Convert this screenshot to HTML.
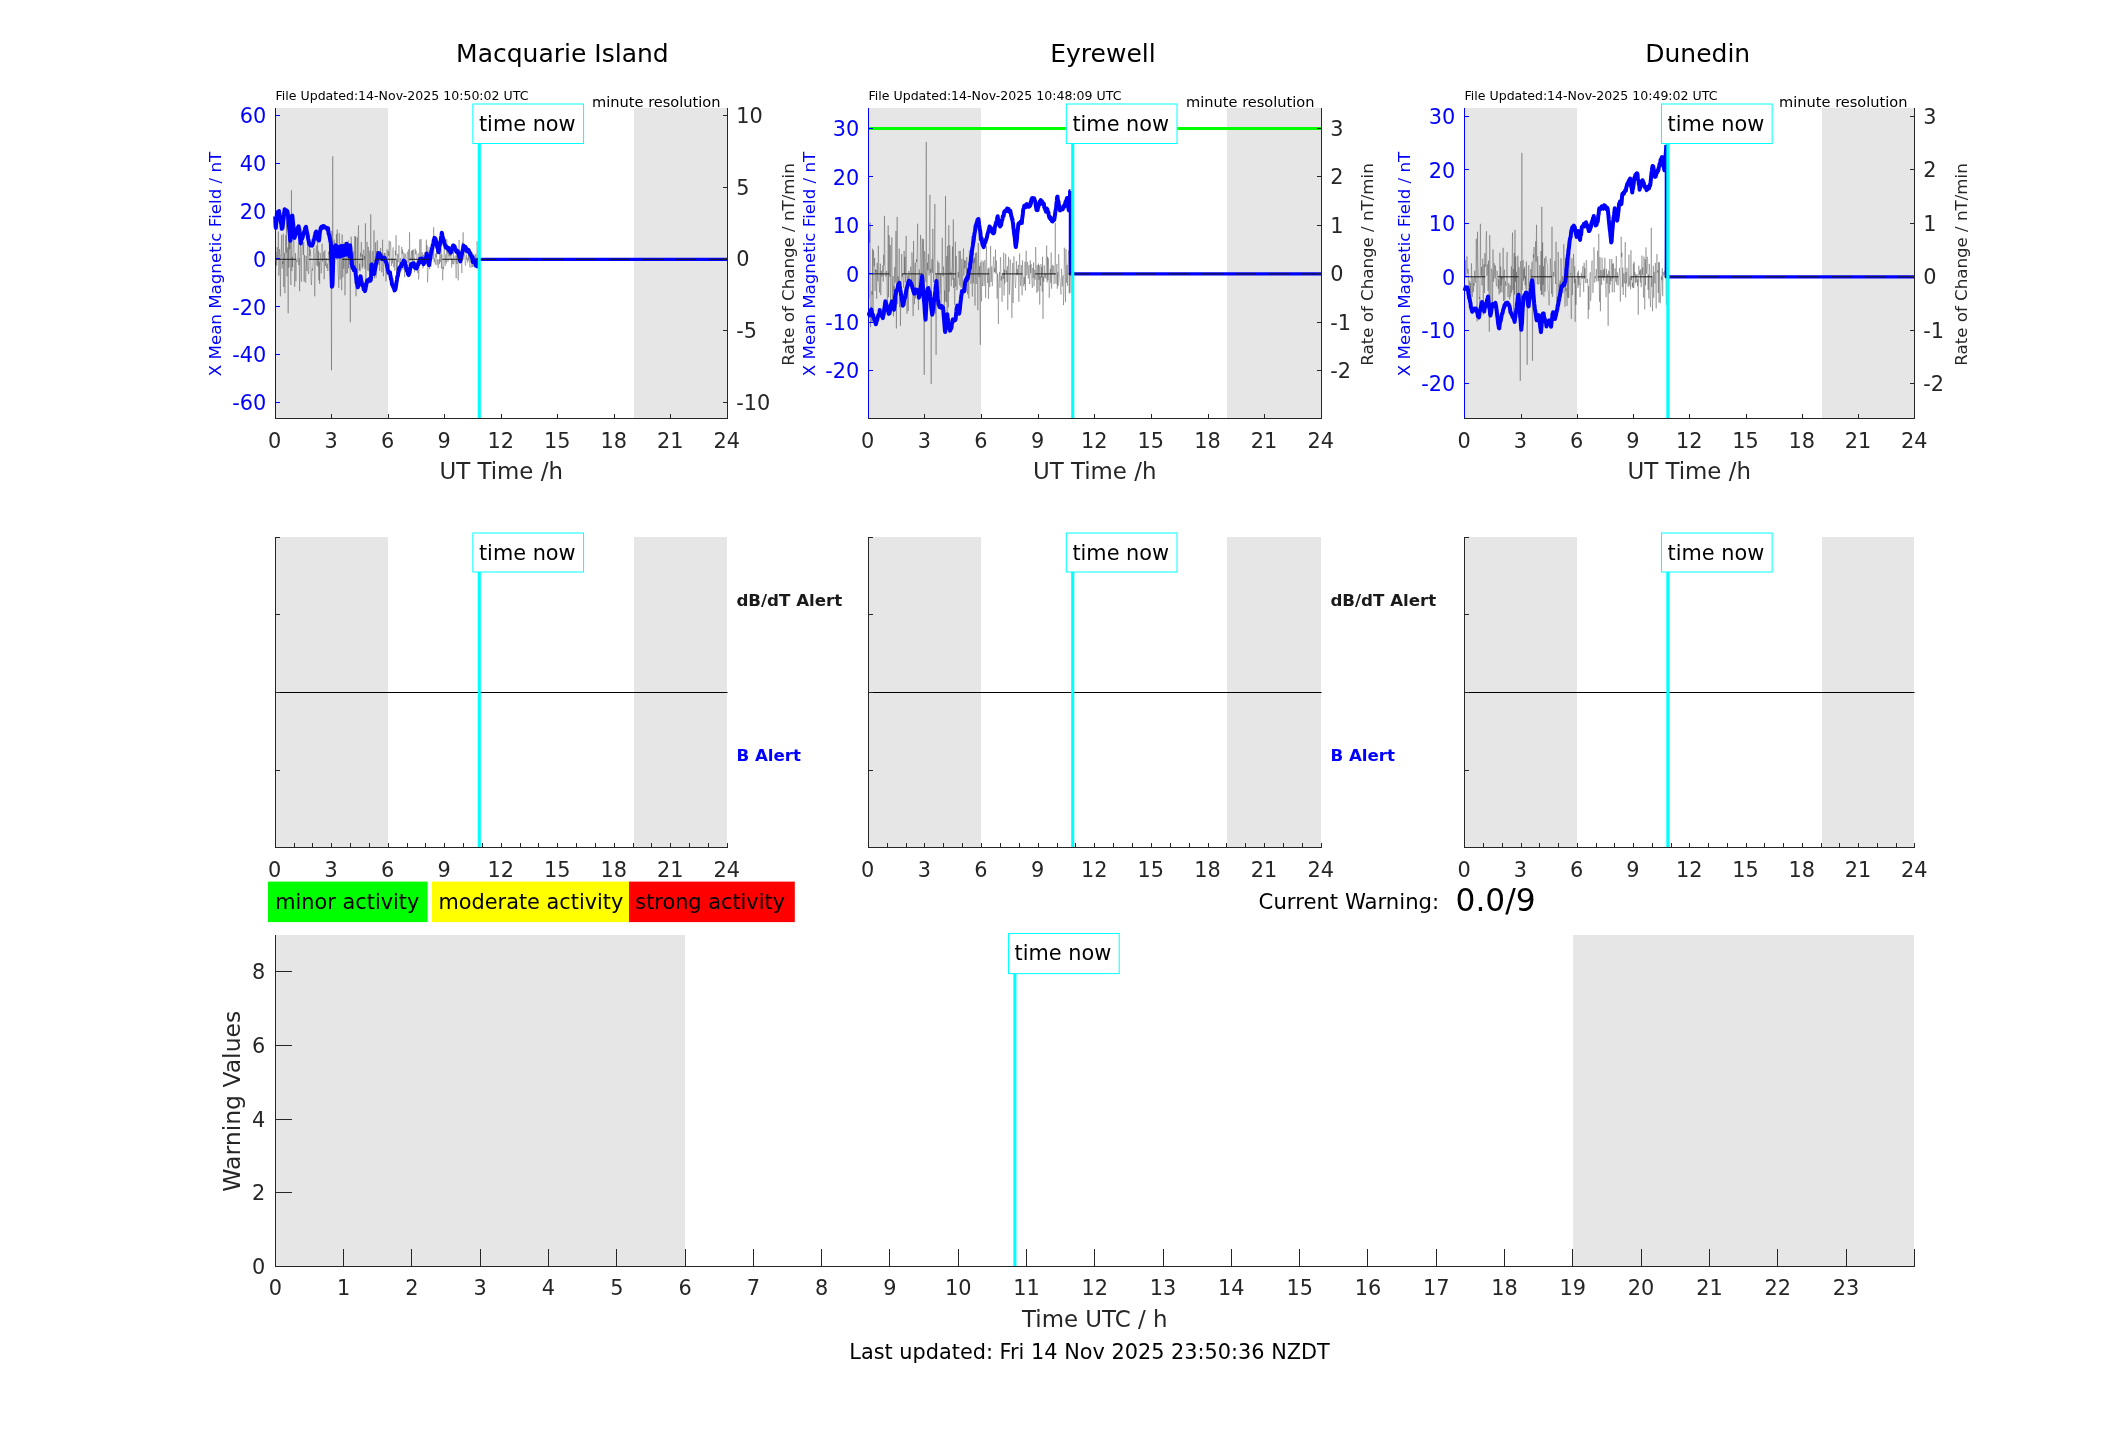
<!DOCTYPE html>
<html><head><meta charset="utf-8"><title>Magnetometer warning plots</title>
<style>html,body{margin:0;padding:0;background:#fff}svg{display:block;will-change:transform}text{font-family:"DejaVu Sans","Liberation Sans",sans-serif;white-space:pre}</style>
</head><body>
<svg width="2117" height="1437" viewBox="0 0 2117 1437">
<rect width="2117" height="1437" fill="#fff"/>
<rect x="276" y="108" width="112" height="310" fill="#e6e6e6"/>
<rect x="634" y="108" width="93" height="310" fill="#e6e6e6"/>
<path d="M275.5 284.05 L275.91 252.38 L276.32 259.79 L276.73 265.51 L277.13 247.13 L277.54 259.33 L277.95 259.29 L278.36 231.36 L278.77 275.64 L279.18 269.02 L279.59 249.1 L280 256.48 L280.4 296.3 L280.81 254.97 L281.22 255.26 L281.63 235.02 L282.04 268.59 L282.45 261.38 L282.86 263.91 L283.27 233.66 L283.67 287.01 L284.08 261.89 L284.49 252.82 L284.9 293.15 L285.31 258.55 L285.72 235.3 L286.13 252.63 L286.54 221.87 L286.94 276.35 L287.35 252.59 L287.76 247.43 L288.17 313.3 L288.58 233.41 L288.99 267.61 L289.4 227.64 L289.81 249.27 L290.21 241.3 L290.62 280.85 L291.03 284.95 L291.44 190.3 L291.85 271.13 L292.26 256.81 L292.67 267.01 L293.08 249.27 L293.48 236.98 L293.89 236.22 L294.3 264.1 L294.71 286.85 L295.12 262.53 L295.53 253.16 L295.94 281.13 L296.35 261.94 L296.75 260.4 L297.16 261.97 L297.57 257.88 L297.98 255.89 L298.39 243.08 L298.8 265.11 L299.21 258.18 L299.62 291.3 L300.02 254.72 L300.43 235.1 L300.84 258.01 L301.25 281.77 L301.66 254.13 L302.07 247.09 L302.48 242.63 L302.89 244.38 L303.29 254.97 L303.7 242.01 L304.11 281.56 L304.52 255.04 L304.93 260.96 L305.34 281.51 L305.75 282.78 L306.16 255.94 L306.56 264.59 L306.97 271.11 L307.38 256.18 L307.79 230.29 L308.2 270.05 L308.61 274.07 L309.02 266.19 L309.43 243.92 L309.83 256.02 L310.24 249.4 L310.65 254.27 L311.06 281.08 L311.47 285 L311.88 270.54 L312.29 268.5 L312.7 270.62 L313.1 259.1 L313.51 258.04 L313.92 248.16 L314.33 258.38 L314.74 296.25 L315.15 273.41 L315.56 253.79 L315.97 251.76 L316.37 245.61 L316.78 265.17 L317.19 265.37 L317.6 237.19 L318.01 266.66 L318.42 250.8 L318.83 280.31 L319.24 261.58 L319.64 283.83 L320.05 252.86 L320.46 255.32 L320.87 263.37 L321.28 273.35 L321.69 266.68 L322.1 243.53 L322.51 261.59 L322.91 259.57 L323.32 254.17 L323.73 251.73 L324.14 279.22 L324.55 254.96 L324.96 250.14 L325.37 266.01 L325.78 260.7 L326.18 258.46 L326.59 268.15 L327 264.97 L327.41 263.61 L327.82 271.03 L328.23 262.83 L328.64 251.46 L329.05 254.6 L329.45 252.4 L329.86 262.13 L330.27 244.48 L330.68 233.67 L331.09 260.55 L331.5 370.3 L331.91 230.67 L332.32 264.86 L332.72 156.3 L333.13 266.88 L333.54 251.09 L333.95 241.77 L334.36 239.66 L334.77 251.09 L335.18 254.9 L335.59 245.95 L335.99 254.71 L336.4 234.07 L336.81 259.54 L337.22 229.53 L337.63 256.07 L338.04 270.96 L338.45 277.6 L338.86 288.07 L339.26 233.16 L339.67 272.05 L340.08 279.55 L340.49 275.74 L340.9 243.76 L341.31 266.17 L341.72 290.2 L342.13 234.54 L342.53 267.13 L342.94 277.48 L343.35 247.99 L343.76 268.69 L344.17 242.2 L344.58 246.45 L344.99 295.3 L345.4 262.28 L345.8 257.91 L346.21 273.73 L346.62 245.27 L347.03 257.37 L347.44 273.23 L347.85 267.3 L348.26 240.71 L348.67 268.47 L349.07 252.82 L349.48 264.42 L349.89 263.22 L350.3 322.3 L350.71 260.76 L351.12 236.65 L351.53 242.94 L351.94 267.82 L352.34 256.36 L352.75 271.92 L353.16 262.25 L353.57 251.42 L353.98 270.96 L354.39 250.37 L354.8 236.02 L355.21 283.29 L355.61 236.55 L356.02 296.3 L356.43 271 L356.84 261.17 L357.25 237.42 L357.66 272.76 L358.07 239.82 L358.48 225.3 L358.88 254.24 L359.29 270.53 L359.7 263.64 L360.11 271.21 L360.52 252.69 L360.93 256.7 L361.34 241.92 L361.75 254.4 L362.15 268.58 L362.56 254.56 L362.97 266.88 L363.38 250.08 L363.79 249.69 L364.2 259.94 L364.61 256.1 L365.02 269.09 L365.42 223.3 L365.83 288.31 L366.24 255.63 L366.65 255.49 L367.06 241.84 L367.47 259.68 L367.88 270.77 L368.29 246.87 L368.69 258.47 L369.1 271.32 L369.51 257.18 L369.92 250.68 L370.33 275.38 L370.74 214.3 L371.15 265.78 L371.56 278.3 L371.96 277.73 L372.37 253.76 L372.78 250.99 L373.19 263.75 L373.6 257.24 L374.01 230.24 L374.42 278.57 L374.83 259.59 L375.23 270.12 L375.64 242.32 L376.05 277.66 L376.46 251.06 L376.87 257.82 L377.28 240.35 L377.69 257.08 L378.1 256.31 L378.5 256.94 L378.91 264.77 L379.32 260.04 L379.73 270.93 L380.14 253.85 L380.55 247.99 L380.96 259.09 L381.37 266.08 L381.77 272.37 L382.18 268.08 L382.59 239.74 L383 263.58 L383.41 276.31 L383.82 260.05 L384.23 253 L384.64 263.16 L385.04 252.88 L385.45 267.62 L385.86 281.3 L386.27 278.15 L386.68 266.18 L387.09 249.15 L387.5 267.92 L387.91 272.86 L388.31 250.94 L388.72 255.9 L389.13 240.64 L389.54 266.71 L389.95 254.43 L390.36 241.5 L390.77 244.32 L391.18 257.39 L391.58 265.86 L391.99 258.53 L392.4 263.43 L392.81 249.6 L393.22 247.42 L393.63 267.18 L394.04 263.7 L394.45 259.03 L394.85 270.81 L395.26 250.75 L395.67 255.52 L396.08 235.3 L396.49 275.82 L396.9 259.38 L397.31 274.34 L397.72 253.92 L398.12 262.23 L398.53 257.76 L398.94 245.32 L399.35 261.56 L399.76 267.4 L400.17 258.02 L400.58 258.7 L400.99 271.09 L401.39 248.83 L401.8 246.89 L402.21 253.94 L402.62 249.63 L403.03 270.04 L403.44 261.74 L403.85 252.61 L404.26 254.61 L404.66 277.3 L405.07 254.8 L405.48 253.79 L405.89 261.46 L406.3 263.74 L406.71 260.81 L407.12 253.24 L407.53 251.74 L407.93 263.1 L408.34 258.96 L408.75 249.33 L409.16 266.23 L409.57 232.3 L409.98 257.94 L410.39 257.79 L410.8 260.68 L411.2 255.11 L411.61 250.87 L412.02 261.36 L412.43 249.88 L412.84 261.92 L413.25 249.44 L413.66 258.61 L414.07 258.33 L414.47 272.24 L414.88 251.43 L415.29 248.66 L415.7 254.36 L416.11 250.57 L416.52 254.65 L416.93 262.66 L417.34 265.55 L417.74 272.91 L418.15 253.19 L418.56 279.44 L418.97 276.1 L419.38 257.56 L419.79 239.53 L420.2 258.58 L420.61 259.93 L421.01 239.04 L421.42 259.95 L421.83 257.52 L422.24 252.28 L422.65 264.91 L423.06 268.33 L423.47 254.93 L423.88 261.37 L424.28 253.41 L424.69 252.23 L425.1 260.01 L425.51 263.99 L425.92 254.27 L426.33 239.62 L426.74 264.48 L427.15 245.25 L427.55 282.3 L427.96 274.74 L428.37 259.16 L428.78 249.14 L429.19 246.94 L429.6 269.1 L430.01 259.16 L430.42 263.72 L430.82 266.78 L431.23 258.91 L431.64 256.88 L432.05 251.97 L432.46 241.02 L432.87 247.93 L433.28 258.79 L433.69 227.3 L434.09 262.16 L434.5 258.42 L434.91 260.38 L435.32 264.55 L435.73 253.53 L436.14 257.47 L436.55 249.31 L436.96 265.2 L437.36 259.53 L437.77 262.12 L438.18 268.01 L438.59 265.56 L439 258.94 L439.41 264.11 L439.82 250.34 L440.23 262.08 L440.63 260.21 L441.04 248.45 L441.45 268.46 L441.86 254.38 L442.27 264.17 L442.68 280.3 L443.09 266.65 L443.5 269.18 L443.9 252.95 L444.31 247.4 L444.72 258.26 L445.13 266.09 L445.54 256.29 L445.95 254.26 L446.36 263.36 L446.77 239.15 L447.17 253.66 L447.58 247.45 L447.99 261.85 L448.4 252.89 L448.81 249.53 L449.22 256.18 L449.63 246.29 L450.04 259.18 L450.44 253.2 L450.85 255.92 L451.26 252.86 L451.67 267.5 L452.08 258.32 L452.49 264.02 L452.9 263.61 L453.31 252.07 L453.71 264.4 L454.12 262.42 L454.53 262.09 L454.94 255.77 L455.35 255.55 L455.76 266.16 L456.17 278.23 L456.58 252.15 L456.98 263.86 L457.39 256.2 L457.8 265.86 L458.21 280.3 L458.62 267.96 L459.03 239.93 L459.44 254.51 L459.85 251.54 L460.25 258.47 L460.66 253.79 L461.07 254.5 L461.48 264.31 L461.89 273.03 L462.3 242.31 L462.71 257.15 L463.12 232.3 L463.52 259.33 L463.93 257.06 L464.34 250.7 L464.75 253.45 L465.16 263.69 L465.57 265.64 L465.98 259.86 L466.39 254.57 L466.79 259.86 L467.2 257.87 L467.61 262.64 L468.02 260.04 L468.43 255.31 L468.84 260.55 L469.25 251.38 L469.66 264.93 L470.06 267.58 L470.47 250.88 L470.88 262.36 L471.29 251.96 L471.7 267.38 L472.11 266.23 L472.52 257.51 L472.93 267.16 L473.33 255.85 L473.74 254.08 L474.15 254.63 L474.56 258.13 L474.97 256.58 L475.38 260.61 L475.79 254.03 L476.2 265.91 L476.6 268.19 L477.01 241.3 L477.42 246.72 L477.83 265.72 L478.24 269.44 L478.65 257.84 L479.06 247.77 L479.47 261.7" fill="none" stroke="#202020" stroke-width="0.29" stroke-linejoin="bevel"/>
<path d="M275.18 216.35 L275.53 225.65 L275.88 227.92 L276.23 222.96 L276.58 219.98 L276.93 212.91 L277.28 213.94 L277.63 211.94 L277.98 212.8 L278.33 212.35 L278.68 213.72 L279.03 210.9 L279.38 213.44 L279.73 215.49 L280.08 218.8 L280.43 219.12 L280.78 221.96 L281.13 223.49 L281.48 226.33 L281.83 228.86 L282.18 228.65 L282.53 227.65 L282.88 224.65 L283.23 221.53 L283.58 219.05 L283.93 214.99 L284.28 212.63 L284.63 209.3 L284.98 210.04 L285.33 210.87 L285.68 210.1 L286.03 210.53 L286.38 210.5 L286.73 210.57 L287.08 210.91 L287.43 211.64 L287.78 213.3 L288.13 217.98 L288.48 222.72 L288.83 225.58 L289.18 228.44 L289.53 231.48 L289.88 235.19 L290.23 240.74 L290.58 239.78 L290.93 233.19 L291.28 227.81 L291.63 223.3 L291.98 215.68 L292.33 215.62 L292.68 219.19 L293.03 222.49 L293.38 225.69 L293.73 230.14 L294.08 234.08 L294.43 237.94 L294.78 237.12 L295.13 236.17 L295.48 234.63 L295.83 234.09 L296.18 231.75 L296.53 232.33 L296.88 230.72 L297.23 229.05 L297.58 228.65 L297.93 227.18 L298.28 227.12 L298.63 226.41 L298.98 228.29 L299.33 229.36 L299.68 233.26 L300.03 237.95 L300.38 242.42 L300.73 243.37 L301.08 241.81 L301.43 238.84 L301.78 239.11 L302.13 238.91 L302.48 237.33 L302.83 236.65 L303.18 234.76 L303.53 233.67 L303.88 232.88 L304.23 231.95 L304.58 230.68 L304.93 229.51 L305.28 227.78 L305.63 227.51 L305.98 226.8 L306.33 229.48 L306.68 231.42 L307.03 232.49 L307.38 233.92 L307.73 235.59 L308.08 238.32 L308.43 239.93 L308.78 241.47 L309.13 243.66 L309.48 243.84 L309.83 244.98 L310.18 244.15 L310.53 245.58 L310.88 245.01 L311.23 245.25 L311.58 243.99 L311.93 245.09 L312.28 245.63 L312.63 244.2 L312.98 243.4 L313.33 242.28 L313.68 239.8 L314.03 239.79 L314.38 238.86 L314.73 236.14 L315.08 235.75 L315.43 233.06 L315.78 232.73 L316.13 231.42 L316.48 234.56 L316.83 234.94 L317.18 235.54 L317.53 235.89 L317.88 238.48 L318.23 239.98 L318.58 237.87 L318.93 240.56 L319.28 238.43 L319.63 234.95 L319.98 231.27 L320.33 230.47 L320.68 228.18 L321.03 227.65 L321.38 226.95 L321.73 228.18 L322.08 228.18 L322.43 226.86 L322.78 227.58 L323.13 226.05 L323.48 227.41 L323.83 226.61 L324.18 226.23 L324.53 226.41 L324.88 227.42 L325.23 227.56 L325.58 227.61 L325.93 227.53 L326.28 227.72 L326.63 228.39 L326.98 228.52 L327.33 229.49 L327.68 229.31 L328.03 228.22 L328.38 231.61 L328.73 234.13 L329.08 234.6 L329.43 236.04 L329.78 237.88 L330.13 239.77 L330.48 241.75 L330.83 242.71 L331.18 258.33 L331.53 276.54 L331.88 286.7 L332.23 286.26 L332.58 284.04 L332.93 270.6 L333.28 258.62 L333.63 251.32 L333.98 246.66 L334.33 247.35 L334.68 253.02 L335.03 255.52 L335.38 252.16 L335.73 245.27 L336.08 248.23 L336.43 252.68 L336.78 256.53 L337.13 250.57 L337.48 246.68 L337.83 247.28 L338.18 251.18 L338.53 256.38 L338.88 251.87 L339.23 247.84 L339.58 246.78 L339.93 251.04 L340.28 256.65 L340.63 252.33 L340.98 247.69 L341.33 246.14 L341.68 251.79 L342.03 255.83 L342.38 254.32 L342.73 249.02 L343.08 246.06 L343.43 248.9 L343.78 255.35 L344.13 253.8 L344.48 249.45 L344.83 245.7 L345.18 249.21 L345.53 254.86 L345.88 253.68 L346.23 251.03 L346.58 243.74 L346.93 247.46 L347.28 252.21 L347.63 254.09 L347.98 249.24 L348.33 247.03 L348.68 247.94 L349.03 251.79 L349.38 256.36 L349.73 250.33 L350.08 245.14 L350.43 248.23 L350.78 252.7 L351.13 256.38 L351.48 260.73 L351.83 262.58 L352.18 266.65 L352.53 266.78 L352.88 268.13 L353.23 267.47 L353.58 266.91 L353.93 270.34 L354.28 268.44 L354.63 269.22 L354.98 269.32 L355.33 271.1 L355.68 274.03 L356.03 276.56 L356.38 279.5 L356.73 282.97 L357.08 284 L357.43 285.68 L357.78 287.21 L358.13 286.23 L358.48 284.02 L358.83 284.62 L359.18 282.16 L359.53 280.91 L359.88 279.76 L360.23 277.24 L360.58 276.27 L360.93 279 L361.28 280.7 L361.63 281.6 L361.98 285.16 L362.33 284.24 L362.68 285.61 L363.03 286.3 L363.38 284.85 L363.73 289.24 L364.08 288.58 L364.43 288.05 L364.78 291.13 L365.13 290.56 L365.48 289.21 L365.83 286.7 L366.18 285.59 L366.53 282.61 L366.88 282.78 L367.23 280.17 L367.58 280.23 L367.93 281.01 L368.28 280.2 L368.63 280.1 L368.98 280.03 L369.33 279.15 L369.68 280.33 L370.03 280.81 L370.38 280.11 L370.73 280.13 L371.08 277.44 L371.43 264.85 L371.78 264.43 L372.13 267.97 L372.48 268.18 L372.83 270.91 L373.18 270.56 L373.53 272.24 L373.88 274.06 L374.23 273.85 L374.58 271.5 L374.93 269.97 L375.28 268.16 L375.63 266.63 L375.98 263.94 L376.33 263.25 L376.68 261.38 L377.03 259.83 L377.38 258.61 L377.73 256.02 L378.08 254.84 L378.43 253.02 L378.78 253.34 L379.13 254.23 L379.48 253.44 L379.83 255.27 L380.18 257.06 L380.53 254.83 L380.88 255.94 L381.23 256.5 L381.58 257.44 L381.93 259.04 L382.28 257.83 L382.63 257.34 L382.98 258.47 L383.33 257.57 L383.68 259.03 L384.03 258.45 L384.38 259.4 L384.73 257.83 L385.08 260.86 L385.43 259.95 L385.78 261.33 L386.13 262.28 L386.48 263.26 L386.83 264.66 L387.18 266.76 L387.53 267.75 L387.88 270.2 L388.23 271 L388.58 272.81 L388.93 273.16 L389.28 271.92 L389.63 273.53 L389.98 272.47 L390.33 275.28 L390.68 276.63 L391.03 279.11 L391.38 279.34 L391.73 281.94 L392.08 284.76 L392.43 284.68 L392.78 285.12 L393.13 286.77 L393.48 287.37 L393.83 287.68 L394.18 289.04 L394.53 290.4 L394.88 289.02 L395.23 289.63 L395.58 288.45 L395.93 286.27 L396.28 283.85 L396.63 281.57 L396.98 279.81 L397.33 276.58 L397.68 276.65 L398.03 274.89 L398.38 272.32 L398.73 271.44 L399.08 268.56 L399.43 267.78 L399.78 267.88 L400.13 267.14 L400.48 266.48 L400.83 265.84 L401.18 265.47 L401.53 266.21 L401.88 263.45 L402.23 264.83 L402.58 263.9 L402.93 264.21 L403.28 263.59 L403.63 260.49 L403.98 262.73 L404.33 262.06 L404.68 261.57 L405.03 262.4 L405.38 264.68 L405.73 264.89 L406.08 267.92 L406.43 268.13 L406.78 270.61 L407.13 269.5 L407.48 269.94 L407.83 273.15 L408.18 274.48 L408.53 275.05 L408.88 274.43 L409.23 273.48 L409.58 272.52 L409.93 270.05 L410.28 268.29 L410.63 266.42 L410.98 264.38 L411.33 264.59 L411.68 263.76 L412.03 266.19 L412.38 264.28 L412.73 264.93 L413.08 263.61 L413.43 264.98 L413.78 263.24 L414.13 265.87 L414.48 265.5 L414.83 267.61 L415.18 265.27 L415.53 266.77 L415.88 267.4 L416.23 268.49 L416.58 267.55 L416.93 267.63 L417.28 264.85 L417.63 264.91 L417.98 264.94 L418.33 264.47 L418.68 262.37 L419.03 263.25 L419.38 262.35 L419.73 260.77 L420.08 258.77 L420.43 259.17 L420.78 259.85 L421.13 261.25 L421.48 260.49 L421.83 258.57 L422.18 260.53 L422.53 262.47 L422.88 261.34 L423.23 261.51 L423.58 264.22 L423.93 263.09 L424.28 263.03 L424.63 262.29 L424.98 260.63 L425.33 258.87 L425.68 258.78 L426.03 257.3 L426.38 255.68 L426.73 253.53 L427.08 255.85 L427.43 256.52 L427.78 258.57 L428.13 260.65 L428.48 262.11 L428.83 264.53 L429.18 265.09 L429.53 262 L429.88 259.97 L430.23 259.53 L430.58 255.73 L430.93 253.86 L431.28 251.26 L431.63 251.17 L431.98 248.49 L432.33 248.39 L432.68 245.22 L433.03 244.96 L433.38 243.03 L433.73 240.34 L434.08 240.22 L434.43 237.81 L434.78 238.11 L435.13 239.58 L435.48 238.73 L435.83 240.06 L436.18 241.76 L436.53 242.73 L436.88 245.87 L437.23 247.02 L437.58 247.98 L437.93 249.45 L438.28 251.39 L438.63 252.3 L438.98 249.75 L439.33 246.81 L439.68 246 L440.03 243.45 L440.38 241.54 L440.73 241.36 L441.08 237.69 L441.43 235.81 L441.78 232.79 L442.13 234.3 L442.48 237.01 L442.83 237.32 L443.18 239.51 L443.53 239.38 L443.88 240.59 L444.23 242.68 L444.58 244.24 L444.93 244.48 L445.28 245.89 L445.63 247.23 L445.98 247.62 L446.33 246.41 L446.68 247.41 L447.03 248.35 L447.38 247.86 L447.73 248.9 L448.08 247.63 L448.43 248.58 L448.78 250.01 L449.13 248.15 L449.48 249.57 L449.83 251.14 L450.18 250.48 L450.53 252.6 L450.88 252.62 L451.23 252.33 L451.58 251.07 L451.93 250.15 L452.28 248.26 L452.63 247.5 L452.98 245.67 L453.33 245.31 L453.68 246.14 L454.03 245.88 L454.38 246.79 L454.73 246.66 L455.08 249.08 L455.43 248.85 L455.78 249.74 L456.13 251.45 L456.48 251.27 L456.83 252.12 L457.18 252.51 L457.53 251.04 L457.88 251.69 L458.23 253.11 L458.58 253.01 L458.93 254.73 L459.28 257.13 L459.63 257.53 L459.98 260.45 L460.33 261.43 L460.68 260.11 L461.03 256.68 L461.38 255.64 L461.73 254.66 L462.08 252.63 L462.43 251.06 L462.78 250.43 L463.13 248.12 L463.48 245.48 L463.83 247.39 L464.18 247.12 L464.53 247.22 L464.88 246.9 L465.23 249.32 L465.58 247.07 L465.93 247.85 L466.28 249.33 L466.63 250.89 L466.98 251.26 L467.33 249.52 L467.68 250.54 L468.03 249.7 L468.38 251.95 L468.73 250.2 L469.08 251.5 L469.43 252.77 L469.78 252.47 L470.13 254.52 L470.48 253.35 L470.83 255.04 L471.18 256.13 L471.53 256.03 L471.88 257.95 L472.23 257.98 L472.58 256.93 L472.93 262.11 L473.28 260.16 L473.63 260.43 L473.98 259.93 L474.33 261.81 L474.68 261.97 L475.03 263.44 L475.38 263.8 L475.73 265.57 L476.08 264.79 L476.43 265.67 L476.78 266.14 L476.87 265.99 L477.46 265.99" fill="none" stroke="#0000ff" stroke-width="4" stroke-linejoin="round" stroke-linecap="butt"/>
<path d="M477.46 265.99 L477.46 259.3 L727.5 259.3" fill="none" stroke="#0000ff" stroke-width="3.3" stroke-linejoin="round" stroke-linecap="butt"/>
<line x1="275.5" y1="259.3" x2="727.5" y2="259.3" stroke="#1a1a1a" stroke-width="1" stroke-dasharray="20.83 12.5"/>
<line x1="275.5" y1="108" x2="275.5" y2="419" stroke="#0000ff" stroke-width="1" />
<line x1="727.5" y1="108" x2="727.5" y2="419" stroke="#262626" stroke-width="1" />
<line x1="275" y1="418.5" x2="728" y2="418.5" stroke="#262626" stroke-width="1" />
<text x="274.7" y="447.9" font-size="20.83" fill="#262626" text-anchor="middle">0</text>
<line x1="331.5" y1="418" x2="331.5" y2="414" stroke="#262626" stroke-width="1" />
<text x="331.2" y="447.9" font-size="20.83" fill="#262626" text-anchor="middle">3</text>
<line x1="388.5" y1="418" x2="388.5" y2="414" stroke="#262626" stroke-width="1" />
<text x="387.7" y="447.9" font-size="20.83" fill="#262626" text-anchor="middle">6</text>
<line x1="444.5" y1="418" x2="444.5" y2="414" stroke="#262626" stroke-width="1" />
<text x="444.2" y="447.9" font-size="20.83" fill="#262626" text-anchor="middle">9</text>
<line x1="501.5" y1="418" x2="501.5" y2="414" stroke="#262626" stroke-width="1" />
<text x="500.7" y="447.9" font-size="20.83" fill="#262626" text-anchor="middle">12</text>
<line x1="557.5" y1="418" x2="557.5" y2="414" stroke="#262626" stroke-width="1" />
<text x="557.2" y="447.9" font-size="20.83" fill="#262626" text-anchor="middle">15</text>
<line x1="614.5" y1="418" x2="614.5" y2="414" stroke="#262626" stroke-width="1" />
<text x="613.7" y="447.9" font-size="20.83" fill="#262626" text-anchor="middle">18</text>
<line x1="670.5" y1="418" x2="670.5" y2="414" stroke="#262626" stroke-width="1" />
<text x="670.2" y="447.9" font-size="20.83" fill="#262626" text-anchor="middle">21</text>
<text x="726.7" y="447.9" font-size="20.83" fill="#262626" text-anchor="middle">24</text>
<line x1="276" y1="115.5" x2="280" y2="115.5" stroke="#0000ff" stroke-width="1" />
<text x="266.3" y="123.3" font-size="20.83" fill="#0000ff" text-anchor="end">60</text>
<line x1="276" y1="163.5" x2="280" y2="163.5" stroke="#0000ff" stroke-width="1" />
<text x="266.3" y="171.1" font-size="20.83" fill="#0000ff" text-anchor="end">40</text>
<line x1="276" y1="211.5" x2="280" y2="211.5" stroke="#0000ff" stroke-width="1" />
<text x="266.3" y="218.9" font-size="20.83" fill="#0000ff" text-anchor="end">20</text>
<line x1="276" y1="258.5" x2="280" y2="258.5" stroke="#0000ff" stroke-width="1" />
<text x="266.3" y="266.7" font-size="20.83" fill="#0000ff" text-anchor="end">0</text>
<line x1="276" y1="306.5" x2="280" y2="306.5" stroke="#0000ff" stroke-width="1" />
<text x="266.3" y="314.5" font-size="20.83" fill="#0000ff" text-anchor="end">-20</text>
<line x1="276" y1="354.5" x2="280" y2="354.5" stroke="#0000ff" stroke-width="1" />
<text x="266.3" y="362.4" font-size="20.83" fill="#0000ff" text-anchor="end">-40</text>
<line x1="276" y1="402.5" x2="280" y2="402.5" stroke="#0000ff" stroke-width="1" />
<text x="266.3" y="410.3" font-size="20.83" fill="#0000ff" text-anchor="end">-60</text>
<line x1="727" y1="115.5" x2="723" y2="115.5" stroke="#262626" stroke-width="1" />
<text x="736.3" y="123" font-size="20.83" fill="#262626">10</text>
<line x1="727" y1="187.5" x2="723" y2="187.5" stroke="#262626" stroke-width="1" />
<text x="736.3" y="194.7" font-size="20.83" fill="#262626">5</text>
<line x1="727" y1="258.5" x2="723" y2="258.5" stroke="#262626" stroke-width="1" />
<text x="736.3" y="266.4" font-size="20.83" fill="#262626">0</text>
<line x1="727" y1="330.5" x2="723" y2="330.5" stroke="#262626" stroke-width="1" />
<text x="736.3" y="338.2" font-size="20.83" fill="#262626">-5</text>
<line x1="727" y1="402.5" x2="723" y2="402.5" stroke="#262626" stroke-width="1" />
<text x="736.3" y="410" font-size="20.83" fill="#262626">-10</text>
<text x="501.2" y="479.2" font-size="22.9" fill="#262626" text-anchor="middle">UT Time /h</text>
<text x="562.4" y="61.8" font-size="25" fill="#000" text-anchor="middle">Macquarie Island</text>
<text x="275.5" y="100" font-size="12.56" fill="#000">File Updated:14-Nov-2025 10:50:02 UTC</text>
<text x="720.5" y="106.5" font-size="14.58" fill="#000" text-anchor="end">minute resolution</text>
<text x="220.8" y="264" font-size="16.67" fill="#0000ff" text-anchor="middle" transform="rotate(-90 220.8 264)">X Mean Magnetic Field / nT</text>
<text x="794" y="264.5" font-size="16.67" fill="#262626" text-anchor="middle" transform="rotate(-90 794 264.5)">Rate of Change / nT/min</text>
<line x1="479.26" y1="143.5" x2="479.26" y2="418" stroke="#00ffff" stroke-width="3.1" />
<rect x="472.87" y="104" width="110.7" height="39.5" fill="#fff" stroke="#00ffff" stroke-width="1"/>
<text x="478.96" y="130.9" font-size="20.83" fill="#000">time now</text>
<rect x="869" y="108" width="112" height="310" fill="#e6e6e6"/>
<rect x="1227" y="108" width="94" height="310" fill="#e6e6e6"/>
<line x1="868.5" y1="128.5" x2="1321.5" y2="128.5" stroke="#00ff00" stroke-width="3.1" />
<path d="M868.5 275.97 L868.91 298.61 L869.32 229.98 L869.73 242.76 L870.14 222.59 L870.55 327.2 L870.96 312.01 L871.37 322.16 L871.78 291.16 L872.19 294.9 L872.6 248.7 L873.01 314.28 L873.42 250.5 L873.83 260.24 L874.24 266.22 L874.64 258.05 L875.05 290.86 L875.46 269.42 L875.87 272.65 L876.28 269.98 L876.69 298.75 L877.1 262.91 L877.51 270.81 L877.92 281.28 L878.33 245.87 L878.74 265.85 L879.15 282.62 L879.56 292.44 L879.97 276.41 L880.38 263.72 L880.79 295.16 L881.2 270.72 L881.61 274.35 L882.02 276.62 L882.43 272.94 L882.84 265.4 L883.25 281.53 L883.66 254.73 L884.07 265.47 L884.48 215.9 L884.89 257.49 L885.3 275.41 L885.71 276.53 L886.12 275.31 L886.52 270.95 L886.93 284.51 L887.34 307.21 L887.75 293.89 L888.16 225.52 L888.57 297.19 L888.98 235.2 L889.39 236.64 L889.8 276.61 L890.21 244.99 L890.62 307.48 L891.03 289.09 L891.44 256.07 L891.85 237.53 L892.26 281.27 L892.67 301.34 L893.08 276.06 L893.49 316.32 L893.9 286 L894.31 292.05 L894.72 266.93 L895.13 282.52 L895.54 268.74 L895.95 230.93 L896.36 328.51 L896.77 270.57 L897.18 216.9 L897.59 303.91 L897.99 276.36 L898.4 278.71 L898.81 283.42 L899.22 248.52 L899.63 307.26 L900.04 281.72 L900.45 325.9 L900.86 293.7 L901.27 281.41 L901.68 254.09 L902.09 277.02 L902.5 273.91 L902.91 280.6 L903.32 281.29 L903.73 287.75 L904.14 250.98 L904.55 273.93 L904.96 256.92 L905.37 282.87 L905.78 250.29 L906.19 235.85 L906.6 266.49 L907.01 313.81 L907.42 292.59 L907.83 275.24 L908.24 311.07 L908.65 270.96 L909.06 271.16 L909.47 286.13 L909.87 278.38 L910.28 272.82 L910.69 266.71 L911.1 272.87 L911.51 290.86 L911.92 252.31 L912.33 262.62 L912.74 297.01 L913.15 316.12 L913.56 240.87 L913.97 281.31 L914.38 304.31 L914.79 269.68 L915.2 262.76 L915.61 298.24 L916.02 262.89 L916.43 259.32 L916.84 262.21 L917.25 245.11 L917.66 223.69 L918.07 298.36 L918.48 310.05 L918.89 278.74 L919.3 269.5 L919.71 284.88 L920.12 269.88 L920.53 234.91 L920.94 246.77 L921.35 283.45 L921.75 265.11 L922.16 238.6 L922.57 241.18 L922.98 295.51 L923.39 239.1 L923.8 299.82 L924.21 374.9 L924.62 251.11 L925.03 266.67 L925.44 277.48 L925.85 282.04 L926.26 141.9 L926.67 305.74 L927.08 294.47 L927.49 262.65 L927.9 270.15 L928.31 254.16 L928.72 262.67 L929.13 275.47 L929.54 224.53 L929.95 194.9 L930.36 272.95 L930.77 268.88 L931.18 383.9 L931.59 262.55 L932 259.08 L932.41 272.74 L932.82 228.93 L933.22 267.81 L933.63 282.43 L934.04 258.23 L934.45 257.53 L934.86 203.9 L935.27 313.75 L935.68 283.83 L936.09 354.9 L936.5 274.61 L936.91 285.51 L937.32 282.61 L937.73 260.56 L938.14 279.38 L938.55 287.68 L938.96 262.92 L939.37 279.8 L939.78 294.19 L940.19 290.02 L940.6 273.52 L941.01 309.55 L941.42 292.08 L941.83 269.42 L942.24 237.83 L942.65 267.8 L943.06 276.44 L943.47 266.54 L943.88 274.39 L944.29 306.52 L944.7 290.46 L945.1 301.47 L945.51 195.9 L945.92 274.1 L946.33 302.14 L946.74 256.16 L947.15 315.76 L947.56 246.08 L947.97 259.45 L948.38 307.42 L948.79 225.2 L949.2 291.81 L949.61 245.19 L950.02 247.37 L950.43 274.57 L950.84 272.22 L951.25 286.26 L951.66 270.05 L952.07 266.6 L952.48 246.69 L952.89 279.85 L953.3 219.43 L953.71 287.98 L954.12 278.23 L954.53 304.27 L954.94 304.95 L955.35 241.85 L955.76 286.56 L956.17 256.09 L956.58 262.59 L956.98 290.2 L957.39 283.3 L957.8 283.11 L958.21 272.01 L958.62 277.53 L959.03 250.94 L959.44 260.87 L959.85 285.54 L960.26 250.87 L960.67 261.54 L961.08 287.67 L961.49 272.87 L961.9 258.77 L962.31 278.9 L962.72 296.24 L963.13 257.02 L963.54 248.47 L963.95 275.61 L964.36 259.91 L964.77 268.23 L965.18 265.19 L965.59 260.59 L966 273 L966.41 276.36 L966.82 257.06 L967.23 288.68 L967.64 294.28 L968.05 270 L968.46 276.03 L968.86 298.41 L969.27 250.4 L969.68 253.83 L970.09 265.83 L970.5 271.8 L970.91 283.94 L971.32 277 L971.73 236.35 L972.14 293.12 L972.55 296.49 L972.96 252.79 L973.37 283.23 L973.78 258.83 L974.19 263.21 L974.6 257.39 L975.01 305.52 L975.42 253.04 L975.83 270.77 L976.24 283.91 L976.65 252.55 L977.06 266.09 L977.47 269.43 L977.88 310.23 L978.29 242.96 L978.7 272.07 L979.11 277.16 L979.52 266.09 L979.93 303.49 L980.33 344.9 L980.74 262.49 L981.15 291.26 L981.56 301.33 L981.97 260.4 L982.38 286.05 L982.79 283.67 L983.2 272.6 L983.61 261.65 L984.02 286.13 L984.43 282.71 L984.84 259.92 L985.25 266.39 L985.66 297.98 L986.07 264.41 L986.48 245.51 L986.89 269.55 L987.3 275.67 L987.71 283.06 L988.12 268.59 L988.53 298.82 L988.94 267.71 L989.35 276.21 L989.76 287.14 L990.17 274.78 L990.58 246.03 L990.99 281.96 L991.4 276.74 L991.81 266.45 L992.21 286.11 L992.62 284.97 L993.03 268.45 L993.44 259.31 L993.85 256.49 L994.26 272.12 L994.67 268.19 L995.08 272.47 L995.49 249.55 L995.9 273.69 L996.31 260.43 L996.72 269.52 L997.13 298.49 L997.54 273.53 L997.95 285.38 L998.36 323.9 L998.77 282.56 L999.18 275.65 L999.59 272.07 L1000 287.72 L1000.41 257.15 L1000.82 265.59 L1001.23 280.58 L1001.64 276.2 L1002.05 301.86 L1002.46 274.87 L1002.87 273.16 L1003.28 278.9 L1003.69 252.61 L1004.09 295.5 L1004.5 269.39 L1004.91 283.36 L1005.32 261.97 L1005.73 253.83 L1006.14 272.81 L1006.55 270.53 L1006.96 281.97 L1007.37 266.23 L1007.78 309.87 L1008.19 276.1 L1008.6 256.74 L1009.01 273.02 L1009.42 294.67 L1009.83 276.16 L1010.24 259.39 L1010.65 266.15 L1011.06 285.16 L1011.47 295.57 L1011.88 317.9 L1012.29 294.56 L1012.7 263.09 L1013.11 302.89 L1013.52 270.4 L1013.93 256.36 L1014.34 269.98 L1014.75 273.2 L1015.16 283.89 L1015.56 287.92 L1015.97 281.32 L1016.38 261.11 L1016.79 274.82 L1017.2 269.24 L1017.61 275.16 L1018.02 269.03 L1018.43 264.7 L1018.84 301.73 L1019.25 269.74 L1019.66 253.48 L1020.07 269.02 L1020.48 285.86 L1020.89 278.71 L1021.3 265.04 L1021.71 283.9 L1022.12 295.25 L1022.53 260.36 L1022.94 273.82 L1023.35 281.04 L1023.76 286.3 L1024.17 277.02 L1024.58 283.99 L1024.99 261.74 L1025.4 290.57 L1025.81 264.03 L1026.22 250.78 L1026.63 275.29 L1027.04 274 L1027.44 261.78 L1027.85 267.11 L1028.26 278.5 L1028.67 267.78 L1029.08 265.1 L1029.49 284.17 L1029.9 281.5 L1030.31 260.32 L1030.72 273.28 L1031.13 264.21 L1031.54 276.89 L1031.95 284.03 L1032.36 287.84 L1032.77 267.9 L1033.18 277.91 L1033.59 262.34 L1034 286.19 L1034.41 278.25 L1034.82 269.87 L1035.23 279.69 L1035.64 247.05 L1036.05 258.84 L1036.46 273.86 L1036.87 292.92 L1037.28 265.02 L1037.69 278.78 L1038.1 291.32 L1038.51 263.54 L1038.92 279.73 L1039.32 265.43 L1039.73 304.62 L1040.14 276.01 L1040.55 285.84 L1040.96 264.11 L1041.37 277.65 L1041.78 266.76 L1042.19 291.58 L1042.6 256.68 L1043.01 318.9 L1043.42 276.37 L1043.83 281.78 L1044.24 265.3 L1044.65 277.38 L1045.06 276.33 L1045.47 273.8 L1045.88 278.74 L1046.29 257.37 L1046.7 245.55 L1047.11 282.49 L1047.52 256.68 L1047.93 280.24 L1048.34 258.24 L1048.75 268.25 L1049.16 297.78 L1049.57 290.63 L1049.98 274.09 L1050.39 268.79 L1050.8 282.85 L1051.2 252.46 L1051.61 288.64 L1052.02 267.87 L1052.43 264.87 L1052.84 274.81 L1053.25 266.98 L1053.66 265.72 L1054.07 284.04 L1054.48 273.32 L1054.89 264.61 L1055.3 222.9 L1055.71 281.17 L1056.12 283.83 L1056.53 270.17 L1056.94 263.92 L1057.35 288.77 L1057.76 272.07 L1058.17 285.7 L1058.58 254.15 L1058.99 259.16 L1059.4 276.67 L1059.81 278.39 L1060.22 282.61 L1060.63 291.42 L1061.04 294.42 L1061.45 268.72 L1061.86 274.57 L1062.27 286.35 L1062.67 277.85 L1063.08 275.55 L1063.49 305.15 L1063.9 293.24 L1064.31 247.64 L1064.72 265.45 L1065.13 269.04 L1065.54 302.13 L1065.95 249.05 L1066.36 282.69 L1066.77 277.41 L1067.18 264.82 L1067.59 285.89 L1068 268.81 L1068.41 250.58 L1068.82 256.64 L1069.23 293.44 L1069.64 265.15 L1070.05 292.83 L1070.46 275.82 L1070.87 249.38 L1071.28 251.37 L1071.69 279.48 L1072.1 294.71 L1072.51 272.54 L1072.92 269.11" fill="none" stroke="#202020" stroke-width="0.29" stroke-linejoin="bevel"/>
<path d="M868.51 316.13 L868.86 315.62 L869.21 313.16 L869.56 315.39 L869.91 311.84 L870.26 311.81 L870.61 312.09 L870.96 309.9 L871.31 309.49 L871.66 310.69 L872.01 312.94 L872.36 315.41 L872.71 314.7 L873.06 314.85 L873.41 317.26 L873.76 317.43 L874.11 318.97 L874.46 321.01 L874.81 320.56 L875.16 322.24 L875.51 322.61 L875.86 324.26 L876.21 323.43 L876.56 321.27 L876.91 320.62 L877.26 319.53 L877.61 318.05 L877.96 316.44 L878.31 315.09 L878.66 314.93 L879.01 313.67 L879.36 314.51 L879.71 310.08 L880.06 312.73 L880.41 313.55 L880.76 314.96 L881.11 314.88 L881.46 314.42 L881.81 315.71 L882.16 316.75 L882.51 316.68 L882.86 318.16 L883.21 314.53 L883.56 315.08 L883.91 312.53 L884.26 308.76 L884.61 307.18 L884.96 304.4 L885.31 301.36 L885.66 301.83 L886.01 303.88 L886.36 304.1 L886.71 305.43 L887.06 306.99 L887.41 308.72 L887.76 310.72 L888.11 310.51 L888.46 312.75 L888.81 313.83 L889.16 313.5 L889.51 313.33 L889.86 311.69 L890.21 309.9 L890.56 308.32 L890.91 304.56 L891.26 304.36 L891.61 301.92 L891.96 301.48 L892.31 304.22 L892.66 305.55 L893.01 305.61 L893.36 307.97 L893.71 308.16 L894.06 309.68 L894.41 307.04 L894.76 304.76 L895.11 296.93 L895.46 294.55 L895.81 293.87 L896.16 290.6 L896.51 290.98 L896.86 289.99 L897.21 289.62 L897.56 288.87 L897.91 286.46 L898.26 284.58 L898.61 285.7 L898.96 284.49 L899.31 282.7 L899.66 285.53 L900.01 287.73 L900.36 290.06 L900.71 291.95 L901.06 295.09 L901.41 294.75 L901.76 299.15 L902.11 300.8 L902.46 302.5 L902.81 305.79 L903.16 303.39 L903.51 304.57 L903.86 302.31 L904.21 299.46 L904.56 299.08 L904.91 296.86 L905.26 297.54 L905.61 295.3 L905.96 292.56 L906.31 289.99 L906.66 288.47 L907.01 287.31 L907.36 285.87 L907.71 284.33 L908.06 283.32 L908.41 282.31 L908.76 280.86 L909.11 280.72 L909.46 280.93 L909.81 284.12 L910.16 281.3 L910.51 282.06 L910.86 283.62 L911.21 283.42 L911.56 284.41 L911.91 285.52 L912.26 287.29 L912.61 288.29 L912.96 288.29 L913.31 291.37 L913.66 290.47 L914.01 293.19 L914.36 293.76 L914.71 292.61 L915.06 293.23 L915.41 291.91 L915.76 292.17 L916.11 289.47 L916.46 290.63 L916.81 289.81 L917.16 290.44 L917.51 290.14 L917.86 292.01 L918.21 291.9 L918.56 292.41 L918.91 297.63 L919.26 296.72 L919.61 295.28 L919.96 291.21 L920.31 289.81 L920.66 287.51 L921.01 285.13 L921.36 282.35 L921.71 279.87 L922.06 276.09 L922.41 280 L922.76 284.49 L923.11 289.68 L923.46 293.2 L923.81 299.45 L924.16 302.34 L924.51 306.33 L924.86 312.72 L925.21 316.23 L925.56 319.75 L925.91 313.68 L926.26 307.01 L926.61 299.42 L926.96 292.45 L927.31 290.32 L927.66 288.51 L928.01 289.9 L928.36 287.9 L928.71 290.6 L929.06 291.74 L929.41 291.64 L929.76 292.31 L930.11 296.48 L930.46 299.06 L930.81 301.99 L931.16 306.53 L931.51 309.83 L931.86 312.16 L932.21 314.7 L932.56 312.95 L932.91 310.4 L933.26 307.44 L933.61 302.97 L933.96 301.07 L934.31 298.82 L934.66 296.24 L935.01 293.71 L935.36 290.74 L935.71 286.43 L936.06 283.97 L936.41 280.92 L936.76 287.27 L937.11 289.89 L937.46 294.1 L937.81 298.41 L938.16 301.24 L938.51 304.28 L938.86 305.12 L939.21 305.59 L939.56 307.17 L939.91 306.92 L940.26 305.61 L940.61 307.26 L940.96 307.57 L941.31 306.39 L941.66 307.41 L942.01 306.27 L942.36 308.27 L942.71 308.01 L943.06 307.43 L943.41 311.77 L943.76 316.58 L944.11 320.01 L944.46 324.75 L944.81 329.01 L945.16 331.96 L945.51 329.64 L945.86 328.66 L946.21 324.1 L946.56 320.39 L946.91 318.18 L947.26 314.15 L947.61 318.13 L947.96 319.52 L948.31 322.09 L948.66 323.95 L949.01 325.54 L949.36 328 L949.71 329.38 L950.06 330.69 L950.41 330.1 L950.76 329.04 L951.11 325.88 L951.46 327.82 L951.81 323.48 L952.16 323.27 L952.51 320.76 L952.86 319.33 L953.21 320.69 L953.56 320.31 L953.91 320.23 L954.26 320.59 L954.61 319.46 L954.96 320.06 L955.31 319.97 L955.66 318.56 L956.01 314.87 L956.36 311.79 L956.71 307.68 L957.06 306.68 L957.41 305.59 L957.76 308.47 L958.11 309.66 L958.46 310.18 L958.81 311.49 L959.16 313.68 L959.51 311.57 L959.86 309.12 L960.21 304.99 L960.56 302.07 L960.91 299.45 L961.26 296.1 L961.61 294 L961.96 291.08 L962.31 291.69 L962.66 290.68 L963.01 290.5 L963.36 291.29 L963.71 290.97 L964.06 291.3 L964.41 290.87 L964.76 286.18 L965.11 282.39 L965.46 281.07 L965.81 280.32 L966.16 279.22 L966.51 280.47 L966.86 277.81 L967.21 277.18 L967.56 278.78 L967.91 277.41 L968.26 275.4 L968.61 273.63 L968.96 270.39 L969.31 268.88 L969.66 268.88 L970.01 266.8 L970.36 262.84 L970.71 262.39 L971.06 257.42 L971.41 255.26 L971.76 253.38 L972.11 249.62 L972.46 247.62 L972.81 245.48 L973.16 242.94 L973.51 241.59 L973.86 239.01 L974.21 235.29 L974.56 233.26 L974.91 231.59 L975.26 229.03 L975.61 226.09 L975.96 225.19 L976.31 224.69 L976.66 222.72 L977.01 223.04 L977.36 220.29 L977.71 219.48 L978.06 220.35 L978.41 219 L978.76 221.32 L979.11 224.35 L979.46 226.47 L979.81 229.73 L980.16 230.75 L980.51 234.07 L980.86 239.34 L981.21 238.3 L981.56 238.08 L981.91 241.49 L982.26 242.85 L982.61 244.92 L982.96 245.33 L983.31 246.09 L983.66 247.14 L984.01 245.62 L984.36 242.65 L984.71 243.72 L985.06 241.98 L985.41 242.09 L985.76 239.94 L986.11 239.9 L986.46 238.47 L986.81 237.69 L987.16 235.8 L987.51 234.09 L987.86 233.07 L988.21 232.12 L988.56 230.55 L988.91 230.11 L989.26 227.76 L989.61 226.53 L989.96 228.3 L990.31 227.37 L990.66 228.44 L991.01 228.23 L991.36 229.45 L991.71 231.43 L992.06 231.07 L992.41 232.68 L992.76 231.36 L993.11 231.8 L993.46 233.41 L993.81 230.67 L994.16 232.5 L994.51 229.96 L994.86 226.57 L995.21 226.03 L995.56 224.3 L995.91 223.7 L996.26 221.92 L996.61 221.31 L996.96 220.34 L997.31 217.59 L997.66 216.23 L998.01 219.01 L998.36 219.83 L998.71 222.28 L999.06 222.64 L999.41 224.83 L999.76 225.83 L1000.11 226.48 L1000.46 225.07 L1000.81 224.8 L1001.16 225.06 L1001.51 222.5 L1001.86 220.53 L1002.21 220 L1002.56 218.32 L1002.91 216.01 L1003.26 216.14 L1003.61 216.01 L1003.96 213.4 L1004.31 211.63 L1004.66 211.8 L1005.01 211.76 L1005.36 210.65 L1005.71 210.48 L1006.06 211.27 L1006.41 210.49 L1006.76 209.53 L1007.11 208.56 L1007.46 208.6 L1007.81 208.64 L1008.16 209.86 L1008.51 208.95 L1008.86 211.36 L1009.21 210.7 L1009.56 210.73 L1009.91 212.17 L1010.26 210.67 L1010.61 212.83 L1010.96 214.14 L1011.31 216.49 L1011.66 216.61 L1012.01 219.31 L1012.36 218.98 L1012.71 221.53 L1013.06 223.52 L1013.41 227.99 L1013.76 229.83 L1014.11 233.43 L1014.46 235.59 L1014.81 238.09 L1015.16 241.75 L1015.51 245.79 L1015.86 247.07 L1016.21 244.49 L1016.56 241.97 L1016.91 239.34 L1017.26 234.37 L1017.61 231.28 L1017.96 228.36 L1018.31 224.45 L1018.66 223.56 L1019.01 224.11 L1019.36 223 L1019.71 222.76 L1020.06 223.25 L1020.41 222.41 L1020.76 221.52 L1021.11 221.3 L1021.46 221.04 L1021.81 223.04 L1022.16 218.68 L1022.51 216.37 L1022.86 213.69 L1023.21 209.56 L1023.56 208.78 L1023.91 207.38 L1024.26 205.73 L1024.61 206.79 L1024.96 205.66 L1025.31 205.81 L1025.66 205.92 L1026.01 207.04 L1026.36 204.38 L1026.71 204.2 L1027.06 204.9 L1027.41 205.22 L1027.76 205.41 L1028.11 205.13 L1028.46 205.7 L1028.81 206.79 L1029.16 206.47 L1029.51 206.33 L1029.86 204.69 L1030.21 205.42 L1030.56 202.16 L1030.91 203.71 L1031.26 200.56 L1031.61 199.01 L1031.96 198.23 L1032.31 199.68 L1032.66 199.76 L1033.01 198.14 L1033.36 198.97 L1033.71 198.47 L1034.06 198.28 L1034.41 199.05 L1034.76 201.29 L1035.11 200.89 L1035.46 202.39 L1035.81 206.09 L1036.16 207.62 L1036.51 209.97 L1036.86 209.42 L1037.21 209.09 L1037.56 210.2 L1037.91 207.01 L1038.26 207.44 L1038.61 205.6 L1038.96 205 L1039.31 203.31 L1039.66 204.45 L1040.01 201.07 L1040.36 200.73 L1040.71 200.05 L1041.06 201.11 L1041.41 200.87 L1041.76 201.64 L1042.11 201.55 L1042.46 202.22 L1042.81 202.89 L1043.16 204.2 L1043.51 203.68 L1043.86 203.71 L1044.21 207.2 L1044.56 207.76 L1044.91 208.2 L1045.26 209.94 L1045.61 209.3 L1045.96 211.75 L1046.31 209.81 L1046.66 208.48 L1047.01 210.33 L1047.36 209.42 L1047.71 211.34 L1048.06 212.17 L1048.41 212.39 L1048.76 215.16 L1049.11 216.44 L1049.46 217.89 L1049.81 218.16 L1050.16 217.24 L1050.51 219.18 L1050.86 218.5 L1051.21 218.66 L1051.56 220.15 L1051.91 221.24 L1052.26 219.39 L1052.61 221.52 L1052.96 218.46 L1053.31 220.55 L1053.66 219.64 L1054.01 220.05 L1054.36 219.2 L1054.71 216.81 L1055.06 214.34 L1055.41 211.61 L1055.76 209.52 L1056.11 208.35 L1056.46 203.28 L1056.81 200.97 L1057.16 196.99 L1057.51 196.58 L1057.86 201.21 L1058.21 200.53 L1058.56 202.5 L1058.91 204.61 L1059.26 206.82 L1059.61 207.85 L1059.96 210.59 L1060.31 209.84 L1060.66 208.25 L1061.01 209.54 L1061.36 209.24 L1061.71 208.21 L1062.06 208.32 L1062.41 207.84 L1062.76 209.42 L1063.11 207.26 L1063.46 206.35 L1063.81 207.41 L1064.16 205.45 L1064.51 206.6 L1064.86 205.42 L1065.21 203.25 L1065.56 202.32 L1065.91 201.12 L1066.26 201.72 L1066.61 199.58 L1066.96 198 L1067.31 200.2 L1067.66 203.38 L1068.01 205.67 L1068.36 207.31 L1068.71 210.39 L1069.06 209.91 L1069.41 205.1 L1069.76 198.75 L1070.11 192.49 L1070.21 190.88 L1070.42 190.88" fill="none" stroke="#0000ff" stroke-width="4" stroke-linejoin="round" stroke-linecap="butt"/>
<path d="M1070.42 190.88 L1070.42 273.9 L1321.5 273.9" fill="none" stroke="#0000ff" stroke-width="3.3" stroke-linejoin="round" stroke-linecap="butt"/>
<line x1="868.5" y1="273.9" x2="1321.5" y2="273.9" stroke="#1a1a1a" stroke-width="1" stroke-dasharray="20.83 12.5"/>
<line x1="868.5" y1="108" x2="868.5" y2="419" stroke="#0000ff" stroke-width="1" />
<line x1="1321.5" y1="108" x2="1321.5" y2="419" stroke="#262626" stroke-width="1" />
<line x1="868" y1="418.5" x2="1322" y2="418.5" stroke="#262626" stroke-width="1" />
<text x="867.7" y="447.9" font-size="20.83" fill="#262626" text-anchor="middle">0</text>
<line x1="924.5" y1="418" x2="924.5" y2="414" stroke="#262626" stroke-width="1" />
<text x="924.32" y="447.9" font-size="20.83" fill="#262626" text-anchor="middle">3</text>
<line x1="981.5" y1="418" x2="981.5" y2="414" stroke="#262626" stroke-width="1" />
<text x="980.95" y="447.9" font-size="20.83" fill="#262626" text-anchor="middle">6</text>
<line x1="1038.5" y1="418" x2="1038.5" y2="414" stroke="#262626" stroke-width="1" />
<text x="1037.58" y="447.9" font-size="20.83" fill="#262626" text-anchor="middle">9</text>
<line x1="1094.5" y1="418" x2="1094.5" y2="414" stroke="#262626" stroke-width="1" />
<text x="1094.2" y="447.9" font-size="20.83" fill="#262626" text-anchor="middle">12</text>
<line x1="1151.5" y1="418" x2="1151.5" y2="414" stroke="#262626" stroke-width="1" />
<text x="1150.83" y="447.9" font-size="20.83" fill="#262626" text-anchor="middle">15</text>
<line x1="1208.5" y1="418" x2="1208.5" y2="414" stroke="#262626" stroke-width="1" />
<text x="1207.45" y="447.9" font-size="20.83" fill="#262626" text-anchor="middle">18</text>
<line x1="1264.5" y1="418" x2="1264.5" y2="414" stroke="#262626" stroke-width="1" />
<text x="1264.08" y="447.9" font-size="20.83" fill="#262626" text-anchor="middle">21</text>
<text x="1320.7" y="447.9" font-size="20.83" fill="#262626" text-anchor="middle">24</text>
<line x1="869" y1="128.5" x2="873" y2="128.5" stroke="#0000ff" stroke-width="1" />
<text x="859.3" y="136.3" font-size="20.83" fill="#0000ff" text-anchor="end">30</text>
<line x1="869" y1="176.5" x2="873" y2="176.5" stroke="#0000ff" stroke-width="1" />
<text x="859.3" y="184.7" font-size="20.83" fill="#0000ff" text-anchor="end">20</text>
<line x1="869" y1="225.5" x2="873" y2="225.5" stroke="#0000ff" stroke-width="1" />
<text x="859.3" y="233.1" font-size="20.83" fill="#0000ff" text-anchor="end">10</text>
<line x1="869" y1="273.5" x2="873" y2="273.5" stroke="#0000ff" stroke-width="1" />
<text x="859.3" y="281.6" font-size="20.83" fill="#0000ff" text-anchor="end">0</text>
<line x1="869" y1="322.5" x2="873" y2="322.5" stroke="#0000ff" stroke-width="1" />
<text x="859.3" y="330" font-size="20.83" fill="#0000ff" text-anchor="end">-10</text>
<line x1="869" y1="370.5" x2="873" y2="370.5" stroke="#0000ff" stroke-width="1" />
<text x="859.3" y="378.4" font-size="20.83" fill="#0000ff" text-anchor="end">-20</text>
<line x1="1321" y1="128.5" x2="1317" y2="128.5" stroke="#262626" stroke-width="1" />
<text x="1330.3" y="136" font-size="20.83" fill="#262626">3</text>
<line x1="1321" y1="176.5" x2="1317" y2="176.5" stroke="#262626" stroke-width="1" />
<text x="1330.3" y="184.4" font-size="20.83" fill="#262626">2</text>
<line x1="1321" y1="225.5" x2="1317" y2="225.5" stroke="#262626" stroke-width="1" />
<text x="1330.3" y="232.8" font-size="20.83" fill="#262626">1</text>
<line x1="1321" y1="273.5" x2="1317" y2="273.5" stroke="#262626" stroke-width="1" />
<text x="1330.3" y="281.3" font-size="20.83" fill="#262626">0</text>
<line x1="1321" y1="322.5" x2="1317" y2="322.5" stroke="#262626" stroke-width="1" />
<text x="1330.3" y="329.7" font-size="20.83" fill="#262626">-1</text>
<line x1="1321" y1="370.5" x2="1317" y2="370.5" stroke="#262626" stroke-width="1" />
<text x="1330.3" y="378.1" font-size="20.83" fill="#262626">-2</text>
<text x="1094.7" y="479.2" font-size="22.9" fill="#262626" text-anchor="middle">UT Time /h</text>
<text x="1103" y="61.8" font-size="25" fill="#000" text-anchor="middle">Eyrewell</text>
<text x="868.5" y="100" font-size="12.56" fill="#000">File Updated:14-Nov-2025 10:48:09 UTC</text>
<text x="1314.5" y="106.5" font-size="14.58" fill="#000" text-anchor="end">minute resolution</text>
<text x="814.8" y="264" font-size="16.67" fill="#0000ff" text-anchor="middle" transform="rotate(-90 814.8 264)">X Mean Magnetic Field / nT</text>
<text x="1373" y="264.5" font-size="16.67" fill="#262626" text-anchor="middle" transform="rotate(-90 1373 264.5)">Rate of Change / nT/min</text>
<line x1="1072.72" y1="143.5" x2="1072.72" y2="418" stroke="#00ffff" stroke-width="3.1" />
<rect x="1066.32" y="104" width="110.7" height="39.5" fill="#fff" stroke="#00ffff" stroke-width="1"/>
<text x="1072.42" y="130.9" font-size="20.83" fill="#000">time now</text>
<rect x="1465" y="108" width="112" height="310" fill="#e6e6e6"/>
<rect x="1822" y="108" width="92" height="310" fill="#e6e6e6"/>
<path d="M1464.5 276.82 L1464.91 272.42 L1465.31 260.28 L1465.72 276.61 L1466.13 271.44 L1466.53 270.15 L1466.94 256.32 L1467.35 270.34 L1467.76 273.71 L1468.16 268.71 L1468.57 284.82 L1468.98 299.32 L1469.38 280.74 L1469.79 286.43 L1470.2 302.22 L1470.6 282.95 L1471.01 299.33 L1471.42 263.36 L1471.82 274.71 L1472.23 296.97 L1472.64 287.5 L1473.05 277.32 L1473.45 291.89 L1473.86 283.16 L1474.27 285.57 L1474.67 270.68 L1475.08 280.45 L1475.49 282.62 L1475.89 267.85 L1476.3 238.78 L1476.71 275.28 L1477.12 321.38 L1477.52 231.79 L1477.93 259.52 L1478.34 272.46 L1478.74 281.97 L1479.15 298.66 L1479.56 297.07 L1479.96 302.28 L1480.37 223.8 L1480.78 263.87 L1481.18 275.69 L1481.59 266.91 L1482 285.44 L1482.41 269.36 L1482.81 258.53 L1483.22 314.69 L1483.63 273.84 L1484.03 264.24 L1484.44 292.96 L1484.85 253.18 L1485.25 267.03 L1485.66 263.26 L1486.07 238.98 L1486.47 231.18 L1486.88 275.71 L1487.29 264.54 L1487.7 264.56 L1488.1 290.88 L1488.51 260.54 L1488.92 307.05 L1489.32 331.8 L1489.73 235.08 L1490.14 272.93 L1490.54 283.5 L1490.95 304.34 L1491.36 268.75 L1491.76 270.78 L1492.17 274.13 L1492.58 313.79 L1492.99 249.48 L1493.39 281.82 L1493.8 276.47 L1494.21 263.23 L1494.61 271.51 L1495.02 278.28 L1495.43 265.57 L1495.83 276.8 L1496.24 285.07 L1496.65 286.27 L1497.06 270.76 L1497.46 273.11 L1497.87 277.28 L1498.28 288.65 L1498.68 279.13 L1499.09 294.47 L1499.5 284.31 L1499.9 252.63 L1500.31 292.73 L1500.72 266.44 L1501.12 285.48 L1501.53 276.67 L1501.94 292.27 L1502.35 277.59 L1502.75 279.25 L1503.16 247.85 L1503.57 301.08 L1503.97 277.25 L1504.38 269.61 L1504.79 300.43 L1505.19 287.23 L1505.6 281.3 L1506.01 285.89 L1506.41 277.98 L1506.82 256.22 L1507.23 252.17 L1507.64 294.7 L1508.04 297.42 L1508.45 287.41 L1508.86 282.89 L1509.26 295.97 L1509.67 299.64 L1510.08 285.17 L1510.48 296.58 L1510.89 294.28 L1511.3 266.32 L1511.7 292.85 L1512.11 256.75 L1512.52 232.57 L1512.93 290.06 L1513.33 269.01 L1513.74 314.2 L1514.15 252.98 L1514.55 294.65 L1514.96 229.8 L1515.37 281.85 L1515.77 256.55 L1516.18 320.67 L1516.59 271.74 L1517 313.04 L1517.4 275.36 L1517.81 255.64 L1518.22 262.99 L1518.62 299 L1519.03 267.21 L1519.44 278.14 L1519.84 299.13 L1520.25 380.8 L1520.66 261.15 L1521.06 272.4 L1521.47 299.82 L1521.88 152.8 L1522.29 290.36 L1522.69 279.71 L1523.1 260.05 L1523.51 280.79 L1523.91 269.16 L1524.32 278.33 L1524.73 266.79 L1525.13 285.16 L1525.54 276.01 L1525.95 289.28 L1526.35 261.54 L1526.76 274.3 L1527.17 364.8 L1527.58 295.32 L1527.98 292.38 L1528.39 290.22 L1528.8 265.16 L1529.2 283.92 L1529.61 287.44 L1530.02 281.19 L1530.42 288.84 L1530.83 269.26 L1531.24 290.71 L1531.64 272.17 L1532.05 261.69 L1532.46 360.8 L1532.87 297.19 L1533.27 254.54 L1533.68 257.51 L1534.09 247.04 L1534.49 315.81 L1534.9 313.15 L1535.31 261.34 L1535.71 241.29 L1536.12 261.62 L1536.53 224.8 L1536.94 267.2 L1537.34 284.21 L1537.75 256.31 L1538.16 274.15 L1538.56 284.42 L1538.97 283.81 L1539.38 283.57 L1539.78 265.03 L1540.19 273.09 L1540.6 290.51 L1541 250.96 L1541.41 294.97 L1541.82 206.8 L1542.23 294.62 L1542.63 242.52 L1543.04 284.9 L1543.45 266.22 L1543.85 296.56 L1544.26 274.59 L1544.67 258.15 L1545.07 291.69 L1545.48 261.81 L1545.89 256.24 L1546.29 259.18 L1546.7 261.41 L1547.11 263.16 L1547.52 264.81 L1547.92 290.5 L1548.33 291.65 L1548.74 295.2 L1549.14 305.38 L1549.55 284.53 L1549.96 274.77 L1550.36 258.61 L1550.77 270.27 L1551.18 276.72 L1551.58 293.92 L1551.99 226.8 L1552.4 296.69 L1552.81 296.63 L1553.21 273.44 L1553.62 272 L1554.03 276.93 L1554.43 265.73 L1554.84 260.97 L1555.25 268.53 L1555.65 284.01 L1556.06 241.85 L1556.47 287.62 L1556.88 302.65 L1557.28 296.74 L1557.69 304 L1558.1 251.88 L1558.5 258.45 L1558.91 304.21 L1559.32 283.61 L1559.72 299.48 L1560.13 280.6 L1560.54 288.09 L1560.94 258.33 L1561.35 266.89 L1561.76 294.39 L1562.17 280.2 L1562.57 276.09 L1562.98 293.01 L1563.39 261.05 L1563.79 244.23 L1564.2 260.16 L1564.61 271.27 L1565.01 306.75 L1565.42 257.86 L1565.83 291.15 L1566.23 287.8 L1566.64 293.23 L1567.05 305.86 L1567.46 276.72 L1567.86 297.64 L1568.27 257.47 L1568.68 298.04 L1569.08 283.93 L1569.49 255.62 L1569.9 233.73 L1570.3 274.44 L1570.71 273.42 L1571.12 318.5 L1571.52 318.8 L1571.93 258.23 L1572.34 295.12 L1572.75 274.56 L1573.15 274.08 L1573.56 253.93 L1573.97 272.05 L1574.37 283.14 L1574.78 266.36 L1575.19 321.8 L1575.59 278.77 L1576 304.79 L1576.41 289.27 L1576.82 284.03 L1577.22 278.68 L1577.63 272.45 L1578.04 287.72 L1578.44 270.6 L1578.85 284.97 L1579.26 276.43 L1579.66 278.55 L1580.07 297.02 L1580.48 284.05 L1580.88 284.56 L1581.29 272.8 L1581.7 277.11 L1582.11 279.01 L1582.51 268.73 L1582.92 266.11 L1583.33 279.67 L1583.73 292.11 L1584.14 262.65 L1584.55 278.55 L1584.95 268.16 L1585.36 282.95 L1585.77 281.33 L1586.17 260.05 L1586.58 260.76 L1586.99 283.05 L1587.4 279.06 L1587.8 281.59 L1588.21 318.8 L1588.62 286.05 L1589.02 309.65 L1589.43 282.67 L1589.84 277.57 L1590.24 272.28 L1590.65 300.9 L1591.06 292.67 L1591.46 267.23 L1591.87 260.89 L1592.28 260.48 L1592.69 290.76 L1593.09 292.83 L1593.5 279.94 L1593.91 247.36 L1594.31 255.85 L1594.72 282.5 L1595.13 276.27 L1595.53 277.98 L1595.94 273.61 L1596.35 269.07 L1596.76 281.37 L1597.16 274.08 L1597.57 250.8 L1597.98 268.49 L1598.38 281.27 L1598.79 233.8 L1599.2 286.84 L1599.6 301.8 L1600.01 257.11 L1600.42 311.28 L1600.82 270.07 L1601.23 274.67 L1601.64 285.02 L1602.05 257.83 L1602.45 278.1 L1602.86 277.11 L1603.27 269.99 L1603.67 280.58 L1604.08 268.42 L1604.49 277.39 L1604.89 257.71 L1605.3 283.59 L1605.71 287.59 L1606.11 297.16 L1606.52 268.85 L1606.93 283.43 L1607.34 273.97 L1607.74 286.41 L1608.15 325.8 L1608.56 270.61 L1608.96 276.01 L1609.37 293.23 L1609.78 259.01 L1610.18 284.65 L1610.59 276.31 L1611 280.97 L1611.4 270.49 L1611.81 259.03 L1612.22 292.23 L1612.63 263.64 L1613.03 278.72 L1613.44 263.45 L1613.85 280.29 L1614.25 292.46 L1614.66 281.1 L1615.07 268.3 L1615.47 275.02 L1615.88 281.82 L1616.29 256.05 L1616.7 284.56 L1617.1 278.8 L1617.51 272.33 L1617.92 285.4 L1618.32 284.72 L1618.73 277.21 L1619.14 273.77 L1619.54 267.93 L1619.95 283.17 L1620.36 301.59 L1620.76 285.74 L1621.17 236.8 L1621.58 257.09 L1621.99 252.87 L1622.39 287.12 L1622.8 267.68 L1623.21 294.91 L1623.61 273.42 L1624.02 274.47 L1624.43 283.37 L1624.83 271.05 L1625.24 242.09 L1625.65 297.29 L1626.05 272.05 L1626.46 283.39 L1626.87 267.82 L1627.28 271.31 L1627.68 275 L1628.09 286.91 L1628.5 283.08 L1628.9 254.59 L1629.31 285.62 L1629.72 278.88 L1630.12 275.88 L1630.53 289.22 L1630.94 250.17 L1631.34 280.09 L1631.75 276.1 L1632.16 286.6 L1632.57 282.86 L1632.97 288.06 L1633.38 263.54 L1633.79 288.16 L1634.19 261.72 L1634.6 275.7 L1635.01 272.24 L1635.41 283.25 L1635.82 274.9 L1636.23 281.38 L1636.64 282.18 L1637.04 273.97 L1637.45 286.04 L1637.86 279.29 L1638.26 314.8 L1638.67 265.57 L1639.08 267.44 L1639.48 274.73 L1639.89 270.49 L1640.3 282.46 L1640.7 269.18 L1641.11 287.25 L1641.52 282.04 L1641.93 255.64 L1642.33 274.98 L1642.74 267.3 L1643.15 284.9 L1643.55 297.65 L1643.96 256.64 L1644.37 272.46 L1644.77 309.34 L1645.18 259.2 L1645.59 285.19 L1645.99 247.45 L1646.4 273.76 L1646.81 270.61 L1647.22 256.87 L1647.62 258.15 L1648.03 289.9 L1648.44 274.58 L1648.84 298.47 L1649.25 263.95 L1649.66 270.25 L1650.06 298.76 L1650.47 307.01 L1650.88 289.76 L1651.28 227.8 L1651.69 286.81 L1652.1 275.93 L1652.51 311.31 L1652.91 292.95 L1653.32 265.78 L1653.73 297.75 L1654.13 271.96 L1654.54 277.67 L1654.95 283.45 L1655.35 262.93 L1655.76 285.26 L1656.17 308.42 L1656.58 263.31 L1656.98 254 L1657.39 272.59 L1657.8 270.37 L1658.2 292.95 L1658.61 262.09 L1659.02 302.42 L1659.42 262.46 L1659.83 282.21 L1660.24 303.28 L1660.64 294.31 L1661.05 288.91 L1661.46 276.54 L1661.87 280.28 L1662.27 268.14 L1662.68 296.19 L1663.09 271.95 L1663.49 272.99 L1663.9 275.59 L1664.31 275.05 L1664.71 270.77 L1665.12 275.62 L1665.53 221.8 L1665.93 283.47 L1666.34 304.8 L1666.75 274.94 L1667.16 274.08 L1667.56 248.89" fill="none" stroke="#202020" stroke-width="0.29" stroke-linejoin="bevel"/>
<path d="M1464.59 290.73 L1464.94 289.45 L1465.29 288.98 L1465.64 287.21 L1465.99 288.28 L1466.34 288.02 L1466.69 288.03 L1467.04 287.4 L1467.39 287.67 L1467.74 288.52 L1468.09 289.81 L1468.44 293.53 L1468.79 295.49 L1469.14 298.11 L1469.49 298.74 L1469.84 300.34 L1470.19 302.19 L1470.54 303.35 L1470.89 307.33 L1471.24 307.62 L1471.59 309.52 L1471.94 310.68 L1472.29 311.8 L1472.64 310.57 L1472.99 309.33 L1473.34 309.34 L1473.69 310.18 L1474.04 309.32 L1474.39 308.6 L1474.74 308.79 L1475.09 309.34 L1475.44 310.09 L1475.79 308.46 L1476.14 309.91 L1476.49 310.74 L1476.84 310.41 L1477.19 312.56 L1477.54 313.45 L1477.89 316.13 L1478.24 316.09 L1478.59 315.85 L1478.94 317.44 L1479.29 314.89 L1479.64 312.03 L1479.99 311.2 L1480.34 309.45 L1480.69 307.48 L1481.04 306.45 L1481.39 302.88 L1481.74 302.71 L1482.09 301.98 L1482.44 303.18 L1482.79 305.06 L1483.14 306.75 L1483.49 308.73 L1483.84 308.32 L1484.19 311.57 L1484.54 308.29 L1484.89 307.98 L1485.24 305.61 L1485.59 306.65 L1485.94 305.56 L1486.29 303.01 L1486.64 303.27 L1486.99 299.99 L1487.34 299.32 L1487.69 298 L1488.04 296.46 L1488.39 300.23 L1488.74 304 L1489.09 304.19 L1489.44 308.3 L1489.79 310.02 L1490.14 314.13 L1490.49 315.5 L1490.84 313.55 L1491.19 311.43 L1491.54 309.01 L1491.89 305.59 L1492.24 306.28 L1492.59 304.07 L1492.94 305.36 L1493.29 305.66 L1493.64 304.5 L1493.99 305.28 L1494.34 306.1 L1494.69 305.15 L1495.04 304.46 L1495.39 302.83 L1495.74 304.39 L1496.09 306.17 L1496.44 309.03 L1496.79 311.48 L1497.14 315.35 L1497.49 317.39 L1497.84 320.56 L1498.19 323.99 L1498.54 325.56 L1498.89 328.03 L1499.24 328.39 L1499.59 325.77 L1499.94 322.43 L1500.29 321.8 L1500.64 320.72 L1500.99 319.65 L1501.34 317.18 L1501.69 315.04 L1502.04 313.59 L1502.39 313.47 L1502.74 311.98 L1503.09 310.09 L1503.44 309.12 L1503.79 307.72 L1504.14 307.41 L1504.49 305.05 L1504.84 304.76 L1505.19 304.2 L1505.54 303.99 L1505.89 303.01 L1506.24 304.83 L1506.59 303.29 L1506.94 304.25 L1507.29 303.38 L1507.64 302.67 L1507.99 304.32 L1508.34 304.45 L1508.69 304.23 L1509.04 305.32 L1509.39 305.98 L1509.74 307.31 L1510.09 309.16 L1510.44 312.22 L1510.79 312.75 L1511.14 312.72 L1511.49 314.36 L1511.84 314.31 L1512.19 315.1 L1512.54 316.93 L1512.89 316.6 L1513.24 316.46 L1513.59 317.85 L1513.94 319.43 L1514.29 320.24 L1514.64 321.91 L1514.99 318.36 L1515.34 317.03 L1515.69 314.29 L1516.04 311.35 L1516.39 309.64 L1516.74 306.88 L1517.09 303.31 L1517.44 302.37 L1517.79 298.04 L1518.14 296.58 L1518.49 294.79 L1518.84 299.53 L1519.19 303.01 L1519.54 307.96 L1519.89 312.27 L1520.24 317.58 L1520.59 320.55 L1520.94 325.64 L1521.29 329.78 L1521.64 325.67 L1521.99 323.11 L1522.34 315.17 L1522.69 308.3 L1523.04 304.87 L1523.39 297.15 L1523.74 296.77 L1524.09 296.72 L1524.44 295.08 L1524.79 294.81 L1525.14 294.29 L1525.49 294.18 L1525.84 292.55 L1526.19 292.42 L1526.54 292.86 L1526.89 294.26 L1527.24 297.08 L1527.59 301.11 L1527.94 303.43 L1528.29 305.62 L1528.64 306.31 L1528.99 302.14 L1529.34 300.35 L1529.69 297.66 L1530.04 296.05 L1530.39 293.71 L1530.74 290.1 L1531.09 287.43 L1531.44 284.02 L1531.79 282.51 L1532.14 280.17 L1532.49 282.85 L1532.84 286.21 L1533.19 292.76 L1533.54 296.47 L1533.89 299.78 L1534.24 303.77 L1534.59 306.54 L1534.94 309.02 L1535.29 310.98 L1535.64 313.48 L1535.99 315.81 L1536.34 318.39 L1536.69 320.31 L1537.04 319.59 L1537.39 319.15 L1537.74 317.69 L1538.09 316.69 L1538.44 317.85 L1538.79 315.11 L1539.14 318.7 L1539.49 319.77 L1539.84 323.19 L1540.19 326.8 L1540.54 328.89 L1540.89 332.12 L1541.24 329.64 L1541.59 325.25 L1541.94 321.3 L1542.29 316.71 L1542.64 314.34 L1542.99 313.51 L1543.34 316.07 L1543.69 313.6 L1544.04 316.81 L1544.39 318.29 L1544.74 318.66 L1545.09 320.82 L1545.44 321.51 L1545.79 321.82 L1546.14 323.44 L1546.49 326.39 L1546.84 325.4 L1547.19 324.64 L1547.54 323.23 L1547.89 322.88 L1548.24 320.92 L1548.59 320.98 L1548.94 322.29 L1549.29 320.36 L1549.64 320.89 L1549.99 322.49 L1550.34 324.33 L1550.69 324.53 L1551.04 326.74 L1551.39 323.7 L1551.74 320.73 L1552.09 319.74 L1552.44 314.23 L1552.79 313.42 L1553.14 312.15 L1553.49 312.19 L1553.84 313.77 L1554.19 314.37 L1554.54 315.33 L1554.89 319.01 L1555.24 317.99 L1555.59 315.87 L1555.94 315.39 L1556.29 312.58 L1556.64 311.9 L1556.99 309.9 L1557.34 309.34 L1557.69 305.33 L1558.04 305.51 L1558.39 303.42 L1558.74 300.58 L1559.09 300.37 L1559.44 296.84 L1559.79 296.85 L1560.14 293.98 L1560.49 292.14 L1560.84 289.67 L1561.19 288.95 L1561.54 286.17 L1561.89 287.17 L1562.24 286.04 L1562.59 286.21 L1562.94 285.39 L1563.29 285.36 L1563.64 283.64 L1563.99 285.22 L1564.34 285.04 L1564.69 282.46 L1565.04 282.06 L1565.39 280.38 L1565.74 277.86 L1566.09 275.06 L1566.44 269.28 L1566.79 266.45 L1567.14 262.8 L1567.49 259.46 L1567.84 255.73 L1568.19 254.04 L1568.54 249.52 L1568.89 248.35 L1569.24 244.78 L1569.59 241.23 L1569.94 239.23 L1570.29 237.57 L1570.64 237.18 L1570.99 233.38 L1571.34 230.86 L1571.69 230.02 L1572.04 228.36 L1572.39 226.93 L1572.74 228.47 L1573.09 227.09 L1573.44 226.98 L1573.79 225.65 L1574.14 226.02 L1574.49 227.31 L1574.84 227.3 L1575.19 231.03 L1575.54 231.04 L1575.89 234.13 L1576.24 234.66 L1576.59 236.88 L1576.94 234.65 L1577.29 234.2 L1577.64 233.37 L1577.99 230.94 L1578.34 231.43 L1578.69 234.25 L1579.04 236.5 L1579.39 237.11 L1579.74 238.93 L1580.09 239.82 L1580.44 235.77 L1580.79 235.1 L1581.14 234.34 L1581.49 230.21 L1581.84 226.94 L1582.19 226.62 L1582.54 226.2 L1582.89 226.67 L1583.24 225.39 L1583.59 225.94 L1583.94 223.86 L1584.29 226.09 L1584.64 226.44 L1584.99 225.98 L1585.34 223.49 L1585.69 224.73 L1586.04 222.14 L1586.39 225.18 L1586.74 225.32 L1587.09 224.99 L1587.44 226.48 L1587.79 226.74 L1588.14 228.38 L1588.49 229.37 L1588.84 231.09 L1589.19 230.98 L1589.54 230.5 L1589.89 229.65 L1590.24 228.87 L1590.59 227.23 L1590.94 227.03 L1591.29 223.74 L1591.64 222.84 L1591.99 222.04 L1592.34 220.53 L1592.69 220 L1593.04 218.02 L1593.39 218.5 L1593.74 215.98 L1594.09 218.38 L1594.44 219.39 L1594.79 222.53 L1595.14 222.15 L1595.49 225.59 L1595.84 224.41 L1596.19 224.52 L1596.54 224.87 L1596.89 222.58 L1597.24 222.02 L1597.59 221.76 L1597.94 219.96 L1598.29 215.45 L1598.64 214.23 L1598.99 210.33 L1599.34 208.36 L1599.69 208.87 L1600.04 209.35 L1600.39 208.43 L1600.74 208.42 L1601.09 208.66 L1601.44 208.36 L1601.79 206.3 L1602.14 207.74 L1602.49 207.8 L1602.84 208.26 L1603.19 208.67 L1603.54 207.22 L1603.89 206.4 L1604.24 205.21 L1604.59 206.29 L1604.94 207.11 L1605.29 207.76 L1605.64 206.3 L1605.99 207.46 L1606.34 208.19 L1606.69 209.28 L1607.04 208.26 L1607.39 207.89 L1607.74 209.22 L1608.09 212.63 L1608.44 215.55 L1608.79 219.88 L1609.14 223.23 L1609.49 226.23 L1609.84 229.97 L1610.19 232.01 L1610.54 236.04 L1610.89 238.79 L1611.24 242.49 L1611.59 241.7 L1611.94 236.49 L1612.29 230.83 L1612.64 227.92 L1612.99 223.35 L1613.34 219.46 L1613.69 216.88 L1614.04 215.13 L1614.39 212.56 L1614.74 208.33 L1615.09 211.39 L1615.44 213.4 L1615.79 213.39 L1616.14 216.15 L1616.49 218.02 L1616.84 220.06 L1617.19 220.51 L1617.54 218.29 L1617.89 216.06 L1618.24 212.86 L1618.59 209.95 L1618.94 204.86 L1619.29 203.29 L1619.64 202.75 L1619.99 201.55 L1620.34 203.67 L1620.69 203.2 L1621.04 204.31 L1621.39 204.04 L1621.74 200.89 L1622.09 195.93 L1622.44 193.86 L1622.79 194.55 L1623.14 193.69 L1623.49 192.85 L1623.84 193.9 L1624.19 192.26 L1624.54 191.77 L1624.89 191.55 L1625.24 190.24 L1625.59 189.81 L1625.94 190.57 L1626.29 187.19 L1626.64 186.76 L1626.99 184.7 L1627.34 183.93 L1627.69 184.55 L1628.04 183.47 L1628.39 181.68 L1628.74 181.59 L1629.09 180.34 L1629.44 179.79 L1629.79 179.11 L1630.14 178.54 L1630.49 181.73 L1630.84 184.19 L1631.19 186.34 L1631.54 188.05 L1631.89 189.34 L1632.24 192.5 L1632.59 189.6 L1632.94 188.82 L1633.29 186.35 L1633.64 184.28 L1633.99 181.19 L1634.34 177.8 L1634.69 177.8 L1635.04 177.32 L1635.39 174.68 L1635.74 175.52 L1636.09 175.89 L1636.44 173.61 L1636.79 175.42 L1637.14 173.26 L1637.49 174.12 L1637.84 178.29 L1638.19 179.65 L1638.54 181.11 L1638.89 184.55 L1639.24 184.5 L1639.59 189.73 L1639.94 187.91 L1640.29 187.51 L1640.64 185.67 L1640.99 185.06 L1641.34 184.14 L1641.69 181.48 L1642.04 181.49 L1642.39 180.18 L1642.74 180.7 L1643.09 181.92 L1643.44 182.13 L1643.79 183.14 L1644.14 185.37 L1644.49 185.33 L1644.84 187.21 L1645.19 187.48 L1645.54 187.15 L1645.89 187.3 L1646.24 189.11 L1646.59 190.1 L1646.94 189.43 L1647.29 188.29 L1647.64 189.3 L1647.99 186.62 L1648.34 186.55 L1648.69 187.19 L1649.04 188.38 L1649.39 186.49 L1649.74 184.88 L1650.09 185.69 L1650.44 183.43 L1650.79 180.6 L1651.14 176.49 L1651.49 173.14 L1651.84 170.85 L1652.19 168.05 L1652.54 165.96 L1652.89 166.33 L1653.24 166.31 L1653.59 168.72 L1653.94 171.33 L1654.29 173.42 L1654.64 176.25 L1654.99 176.85 L1655.34 176.2 L1655.69 176.6 L1656.04 174.93 L1656.39 173.75 L1656.74 172.88 L1657.09 172.84 L1657.44 172 L1657.79 170.07 L1658.14 170.85 L1658.49 169.21 L1658.84 167.46 L1659.19 165.83 L1659.54 164 L1659.89 163.25 L1660.24 164.18 L1660.59 159.65 L1660.94 160.25 L1661.29 159.45 L1661.64 157.68 L1661.99 157.09 L1662.34 159.95 L1662.69 160.43 L1663.04 163.74 L1663.39 166.43 L1663.74 166.43 L1664.09 168.59 L1664.44 170.28 L1664.79 166.62 L1665.14 162.56 L1665.49 157.69 L1665.84 152.27 L1666.19 147.58 L1666.47 145.01 L1666.36 145.01" fill="none" stroke="#0000ff" stroke-width="4" stroke-linejoin="round" stroke-linecap="butt"/>
<path d="M1666.36 145.01 L1666.36 276.8 L1914.5 276.8" fill="none" stroke="#0000ff" stroke-width="3.3" stroke-linejoin="round" stroke-linecap="butt"/>
<line x1="1464.5" y1="276.8" x2="1914.5" y2="276.8" stroke="#1a1a1a" stroke-width="1" stroke-dasharray="20.83 12.5"/>
<line x1="1464.5" y1="108" x2="1464.5" y2="419" stroke="#0000ff" stroke-width="1" />
<line x1="1914.5" y1="108" x2="1914.5" y2="419" stroke="#262626" stroke-width="1" />
<line x1="1464" y1="418.5" x2="1915" y2="418.5" stroke="#262626" stroke-width="1" />
<text x="1464.2" y="447.9" font-size="20.83" fill="#262626" text-anchor="middle">0</text>
<line x1="1521.5" y1="418" x2="1521.5" y2="414" stroke="#262626" stroke-width="1" />
<text x="1520.45" y="447.9" font-size="20.83" fill="#262626" text-anchor="middle">3</text>
<line x1="1577.5" y1="418" x2="1577.5" y2="414" stroke="#262626" stroke-width="1" />
<text x="1576.7" y="447.9" font-size="20.83" fill="#262626" text-anchor="middle">6</text>
<line x1="1633.5" y1="418" x2="1633.5" y2="414" stroke="#262626" stroke-width="1" />
<text x="1632.95" y="447.9" font-size="20.83" fill="#262626" text-anchor="middle">9</text>
<line x1="1689.5" y1="418" x2="1689.5" y2="414" stroke="#262626" stroke-width="1" />
<text x="1689.2" y="447.9" font-size="20.83" fill="#262626" text-anchor="middle">12</text>
<line x1="1746.5" y1="418" x2="1746.5" y2="414" stroke="#262626" stroke-width="1" />
<text x="1745.45" y="447.9" font-size="20.83" fill="#262626" text-anchor="middle">15</text>
<line x1="1802.5" y1="418" x2="1802.5" y2="414" stroke="#262626" stroke-width="1" />
<text x="1801.7" y="447.9" font-size="20.83" fill="#262626" text-anchor="middle">18</text>
<line x1="1858.5" y1="418" x2="1858.5" y2="414" stroke="#262626" stroke-width="1" />
<text x="1857.95" y="447.9" font-size="20.83" fill="#262626" text-anchor="middle">21</text>
<text x="1914.2" y="447.9" font-size="20.83" fill="#262626" text-anchor="middle">24</text>
<line x1="1465" y1="116.5" x2="1469" y2="116.5" stroke="#0000ff" stroke-width="1" />
<text x="1455.3" y="124.3" font-size="20.83" fill="#0000ff" text-anchor="end">30</text>
<line x1="1465" y1="169.5" x2="1469" y2="169.5" stroke="#0000ff" stroke-width="1" />
<text x="1455.3" y="177.7" font-size="20.83" fill="#0000ff" text-anchor="end">20</text>
<line x1="1465" y1="223.5" x2="1469" y2="223.5" stroke="#0000ff" stroke-width="1" />
<text x="1455.3" y="231.1" font-size="20.83" fill="#0000ff" text-anchor="end">10</text>
<line x1="1465" y1="276.5" x2="1469" y2="276.5" stroke="#0000ff" stroke-width="1" />
<text x="1455.3" y="284.6" font-size="20.83" fill="#0000ff" text-anchor="end">0</text>
<line x1="1465" y1="330.5" x2="1469" y2="330.5" stroke="#0000ff" stroke-width="1" />
<text x="1455.3" y="338" font-size="20.83" fill="#0000ff" text-anchor="end">-10</text>
<line x1="1465" y1="383.5" x2="1469" y2="383.5" stroke="#0000ff" stroke-width="1" />
<text x="1455.3" y="391.4" font-size="20.83" fill="#0000ff" text-anchor="end">-20</text>
<line x1="1914" y1="116.5" x2="1910" y2="116.5" stroke="#262626" stroke-width="1" />
<text x="1923.3" y="124" font-size="20.83" fill="#262626">3</text>
<line x1="1914" y1="169.5" x2="1910" y2="169.5" stroke="#262626" stroke-width="1" />
<text x="1923.3" y="177.4" font-size="20.83" fill="#262626">2</text>
<line x1="1914" y1="223.5" x2="1910" y2="223.5" stroke="#262626" stroke-width="1" />
<text x="1923.3" y="230.8" font-size="20.83" fill="#262626">1</text>
<line x1="1914" y1="276.5" x2="1910" y2="276.5" stroke="#262626" stroke-width="1" />
<text x="1923.3" y="284.3" font-size="20.83" fill="#262626">0</text>
<line x1="1914" y1="330.5" x2="1910" y2="330.5" stroke="#262626" stroke-width="1" />
<text x="1923.3" y="337.7" font-size="20.83" fill="#262626">-1</text>
<line x1="1914" y1="383.5" x2="1910" y2="383.5" stroke="#262626" stroke-width="1" />
<text x="1923.3" y="391.1" font-size="20.83" fill="#262626">-2</text>
<text x="1689.2" y="479.2" font-size="22.9" fill="#262626" text-anchor="middle">UT Time /h</text>
<text x="1697.7" y="61.8" font-size="25" fill="#000" text-anchor="middle">Dunedin</text>
<text x="1464.5" y="100" font-size="12.56" fill="#000">File Updated:14-Nov-2025 10:49:02 UTC</text>
<text x="1907.5" y="106.5" font-size="14.58" fill="#000" text-anchor="end">minute resolution</text>
<text x="1410.3" y="264" font-size="16.67" fill="#0000ff" text-anchor="middle" transform="rotate(-90 1410.3 264)">X Mean Magnetic Field / nT</text>
<text x="1966.5" y="264.5" font-size="16.67" fill="#262626" text-anchor="middle" transform="rotate(-90 1966.5 264.5)">Rate of Change / nT/min</text>
<line x1="1667.86" y1="143.5" x2="1667.86" y2="418" stroke="#00ffff" stroke-width="3.1" />
<rect x="1661.46" y="104" width="110.7" height="39.5" fill="#fff" stroke="#00ffff" stroke-width="1"/>
<text x="1667.56" y="130.9" font-size="20.83" fill="#000">time now</text>
<rect x="276" y="537" width="112" height="310" fill="#e6e6e6"/>
<rect x="634" y="537" width="93" height="310" fill="#e6e6e6"/>
<line x1="275.5" y1="692.5" x2="727.5" y2="692.5" stroke="#000" stroke-width="1" />
<line x1="275.5" y1="537" x2="275.5" y2="848" stroke="#262626" stroke-width="1" />
<line x1="275" y1="847.5" x2="728" y2="847.5" stroke="#262626" stroke-width="1" />
<text x="274.7" y="877.2" font-size="20.83" fill="#262626" text-anchor="middle">0</text>
<line x1="294.5" y1="847" x2="294.5" y2="843" stroke="#262626" stroke-width="1" />
<line x1="312.5" y1="847" x2="312.5" y2="843" stroke="#262626" stroke-width="1" />
<line x1="331.5" y1="847" x2="331.5" y2="843" stroke="#262626" stroke-width="1" />
<text x="331.2" y="877.2" font-size="20.83" fill="#262626" text-anchor="middle">3</text>
<line x1="350.5" y1="847" x2="350.5" y2="843" stroke="#262626" stroke-width="1" />
<line x1="369.5" y1="847" x2="369.5" y2="843" stroke="#262626" stroke-width="1" />
<line x1="388.5" y1="847" x2="388.5" y2="843" stroke="#262626" stroke-width="1" />
<text x="387.7" y="877.2" font-size="20.83" fill="#262626" text-anchor="middle">6</text>
<line x1="407.5" y1="847" x2="407.5" y2="843" stroke="#262626" stroke-width="1" />
<line x1="425.5" y1="847" x2="425.5" y2="843" stroke="#262626" stroke-width="1" />
<line x1="444.5" y1="847" x2="444.5" y2="843" stroke="#262626" stroke-width="1" />
<text x="444.2" y="877.2" font-size="20.83" fill="#262626" text-anchor="middle">9</text>
<line x1="463.5" y1="847" x2="463.5" y2="843" stroke="#262626" stroke-width="1" />
<line x1="482.5" y1="847" x2="482.5" y2="843" stroke="#262626" stroke-width="1" />
<line x1="501.5" y1="847" x2="501.5" y2="843" stroke="#262626" stroke-width="1" />
<text x="500.7" y="877.2" font-size="20.83" fill="#262626" text-anchor="middle">12</text>
<line x1="520.5" y1="847" x2="520.5" y2="843" stroke="#262626" stroke-width="1" />
<line x1="538.5" y1="847" x2="538.5" y2="843" stroke="#262626" stroke-width="1" />
<line x1="557.5" y1="847" x2="557.5" y2="843" stroke="#262626" stroke-width="1" />
<text x="557.2" y="877.2" font-size="20.83" fill="#262626" text-anchor="middle">15</text>
<line x1="576.5" y1="847" x2="576.5" y2="843" stroke="#262626" stroke-width="1" />
<line x1="595.5" y1="847" x2="595.5" y2="843" stroke="#262626" stroke-width="1" />
<line x1="614.5" y1="847" x2="614.5" y2="843" stroke="#262626" stroke-width="1" />
<text x="613.7" y="877.2" font-size="20.83" fill="#262626" text-anchor="middle">18</text>
<line x1="633.5" y1="847" x2="633.5" y2="843" stroke="#262626" stroke-width="1" />
<line x1="651.5" y1="847" x2="651.5" y2="843" stroke="#262626" stroke-width="1" />
<line x1="670.5" y1="847" x2="670.5" y2="843" stroke="#262626" stroke-width="1" />
<text x="670.2" y="877.2" font-size="20.83" fill="#262626" text-anchor="middle">21</text>
<line x1="689.5" y1="847" x2="689.5" y2="843" stroke="#262626" stroke-width="1" />
<line x1="708.5" y1="847" x2="708.5" y2="843" stroke="#262626" stroke-width="1" />
<line x1="727.5" y1="847" x2="727.5" y2="843" stroke="#262626" stroke-width="1" />
<text x="726.7" y="877.2" font-size="20.83" fill="#262626" text-anchor="middle">24</text>
<line x1="276" y1="537.5" x2="280" y2="537.5" stroke="#262626" stroke-width="1" />
<line x1="276" y1="614.5" x2="280" y2="614.5" stroke="#262626" stroke-width="1" />
<line x1="276" y1="692.5" x2="280" y2="692.5" stroke="#262626" stroke-width="1" />
<line x1="276" y1="770.5" x2="280" y2="770.5" stroke="#262626" stroke-width="1" />
<text x="736.4" y="605.8" font-size="16.67" fill="#1a1a1a" font-weight="bold">dB/dT Alert</text>
<text x="736.4" y="761.2" font-size="16.67" fill="#0000ff" font-weight="bold">B Alert</text>
<line x1="479.26" y1="572" x2="479.26" y2="847" stroke="#00ffff" stroke-width="3.1" />
<rect x="472.87" y="533" width="110.7" height="39" fill="#fff" stroke="#00ffff" stroke-width="1"/>
<text x="478.96" y="559.9" font-size="20.83" fill="#000">time now</text>
<rect x="869" y="537" width="112" height="310" fill="#e6e6e6"/>
<rect x="1227" y="537" width="94" height="310" fill="#e6e6e6"/>
<line x1="868.5" y1="692.5" x2="1321.5" y2="692.5" stroke="#000" stroke-width="1" />
<line x1="868.5" y1="537" x2="868.5" y2="848" stroke="#262626" stroke-width="1" />
<line x1="868" y1="847.5" x2="1322" y2="847.5" stroke="#262626" stroke-width="1" />
<text x="867.7" y="877.2" font-size="20.83" fill="#262626" text-anchor="middle">0</text>
<line x1="887.5" y1="847" x2="887.5" y2="843" stroke="#262626" stroke-width="1" />
<line x1="906.5" y1="847" x2="906.5" y2="843" stroke="#262626" stroke-width="1" />
<line x1="924.5" y1="847" x2="924.5" y2="843" stroke="#262626" stroke-width="1" />
<text x="924.32" y="877.2" font-size="20.83" fill="#262626" text-anchor="middle">3</text>
<line x1="943.5" y1="847" x2="943.5" y2="843" stroke="#262626" stroke-width="1" />
<line x1="962.5" y1="847" x2="962.5" y2="843" stroke="#262626" stroke-width="1" />
<line x1="981.5" y1="847" x2="981.5" y2="843" stroke="#262626" stroke-width="1" />
<text x="980.95" y="877.2" font-size="20.83" fill="#262626" text-anchor="middle">6</text>
<line x1="1000.5" y1="847" x2="1000.5" y2="843" stroke="#262626" stroke-width="1" />
<line x1="1019.5" y1="847" x2="1019.5" y2="843" stroke="#262626" stroke-width="1" />
<line x1="1038.5" y1="847" x2="1038.5" y2="843" stroke="#262626" stroke-width="1" />
<text x="1037.58" y="877.2" font-size="20.83" fill="#262626" text-anchor="middle">9</text>
<line x1="1057.5" y1="847" x2="1057.5" y2="843" stroke="#262626" stroke-width="1" />
<line x1="1075.5" y1="847" x2="1075.5" y2="843" stroke="#262626" stroke-width="1" />
<line x1="1094.5" y1="847" x2="1094.5" y2="843" stroke="#262626" stroke-width="1" />
<text x="1094.2" y="877.2" font-size="20.83" fill="#262626" text-anchor="middle">12</text>
<line x1="1113.5" y1="847" x2="1113.5" y2="843" stroke="#262626" stroke-width="1" />
<line x1="1132.5" y1="847" x2="1132.5" y2="843" stroke="#262626" stroke-width="1" />
<line x1="1151.5" y1="847" x2="1151.5" y2="843" stroke="#262626" stroke-width="1" />
<text x="1150.83" y="877.2" font-size="20.83" fill="#262626" text-anchor="middle">15</text>
<line x1="1170.5" y1="847" x2="1170.5" y2="843" stroke="#262626" stroke-width="1" />
<line x1="1189.5" y1="847" x2="1189.5" y2="843" stroke="#262626" stroke-width="1" />
<line x1="1208.5" y1="847" x2="1208.5" y2="843" stroke="#262626" stroke-width="1" />
<text x="1207.45" y="877.2" font-size="20.83" fill="#262626" text-anchor="middle">18</text>
<line x1="1226.5" y1="847" x2="1226.5" y2="843" stroke="#262626" stroke-width="1" />
<line x1="1245.5" y1="847" x2="1245.5" y2="843" stroke="#262626" stroke-width="1" />
<line x1="1264.5" y1="847" x2="1264.5" y2="843" stroke="#262626" stroke-width="1" />
<text x="1264.08" y="877.2" font-size="20.83" fill="#262626" text-anchor="middle">21</text>
<line x1="1283.5" y1="847" x2="1283.5" y2="843" stroke="#262626" stroke-width="1" />
<line x1="1302.5" y1="847" x2="1302.5" y2="843" stroke="#262626" stroke-width="1" />
<line x1="1321.5" y1="847" x2="1321.5" y2="843" stroke="#262626" stroke-width="1" />
<text x="1320.7" y="877.2" font-size="20.83" fill="#262626" text-anchor="middle">24</text>
<line x1="869" y1="537.5" x2="873" y2="537.5" stroke="#262626" stroke-width="1" />
<line x1="869" y1="614.5" x2="873" y2="614.5" stroke="#262626" stroke-width="1" />
<line x1="869" y1="692.5" x2="873" y2="692.5" stroke="#262626" stroke-width="1" />
<line x1="869" y1="770.5" x2="873" y2="770.5" stroke="#262626" stroke-width="1" />
<text x="1330.4" y="605.8" font-size="16.67" fill="#1a1a1a" font-weight="bold">dB/dT Alert</text>
<text x="1330.4" y="761.2" font-size="16.67" fill="#0000ff" font-weight="bold">B Alert</text>
<line x1="1072.72" y1="572" x2="1072.72" y2="847" stroke="#00ffff" stroke-width="3.1" />
<rect x="1066.32" y="533" width="110.7" height="39" fill="#fff" stroke="#00ffff" stroke-width="1"/>
<text x="1072.42" y="559.9" font-size="20.83" fill="#000">time now</text>
<rect x="1465" y="537" width="112" height="310" fill="#e6e6e6"/>
<rect x="1822" y="537" width="92" height="310" fill="#e6e6e6"/>
<line x1="1464.5" y1="692.5" x2="1914.5" y2="692.5" stroke="#000" stroke-width="1" />
<line x1="1464.5" y1="537" x2="1464.5" y2="848" stroke="#262626" stroke-width="1" />
<line x1="1464" y1="847.5" x2="1915" y2="847.5" stroke="#262626" stroke-width="1" />
<text x="1464.2" y="877.2" font-size="20.83" fill="#262626" text-anchor="middle">0</text>
<line x1="1483.5" y1="847" x2="1483.5" y2="843" stroke="#262626" stroke-width="1" />
<line x1="1502.5" y1="847" x2="1502.5" y2="843" stroke="#262626" stroke-width="1" />
<line x1="1521.5" y1="847" x2="1521.5" y2="843" stroke="#262626" stroke-width="1" />
<text x="1520.45" y="877.2" font-size="20.83" fill="#262626" text-anchor="middle">3</text>
<line x1="1539.5" y1="847" x2="1539.5" y2="843" stroke="#262626" stroke-width="1" />
<line x1="1558.5" y1="847" x2="1558.5" y2="843" stroke="#262626" stroke-width="1" />
<line x1="1577.5" y1="847" x2="1577.5" y2="843" stroke="#262626" stroke-width="1" />
<text x="1576.7" y="877.2" font-size="20.83" fill="#262626" text-anchor="middle">6</text>
<line x1="1596.5" y1="847" x2="1596.5" y2="843" stroke="#262626" stroke-width="1" />
<line x1="1614.5" y1="847" x2="1614.5" y2="843" stroke="#262626" stroke-width="1" />
<line x1="1633.5" y1="847" x2="1633.5" y2="843" stroke="#262626" stroke-width="1" />
<text x="1632.95" y="877.2" font-size="20.83" fill="#262626" text-anchor="middle">9</text>
<line x1="1652.5" y1="847" x2="1652.5" y2="843" stroke="#262626" stroke-width="1" />
<line x1="1671.5" y1="847" x2="1671.5" y2="843" stroke="#262626" stroke-width="1" />
<line x1="1689.5" y1="847" x2="1689.5" y2="843" stroke="#262626" stroke-width="1" />
<text x="1689.2" y="877.2" font-size="20.83" fill="#262626" text-anchor="middle">12</text>
<line x1="1708.5" y1="847" x2="1708.5" y2="843" stroke="#262626" stroke-width="1" />
<line x1="1727.5" y1="847" x2="1727.5" y2="843" stroke="#262626" stroke-width="1" />
<line x1="1746.5" y1="847" x2="1746.5" y2="843" stroke="#262626" stroke-width="1" />
<text x="1745.45" y="877.2" font-size="20.83" fill="#262626" text-anchor="middle">15</text>
<line x1="1764.5" y1="847" x2="1764.5" y2="843" stroke="#262626" stroke-width="1" />
<line x1="1783.5" y1="847" x2="1783.5" y2="843" stroke="#262626" stroke-width="1" />
<line x1="1802.5" y1="847" x2="1802.5" y2="843" stroke="#262626" stroke-width="1" />
<text x="1801.7" y="877.2" font-size="20.83" fill="#262626" text-anchor="middle">18</text>
<line x1="1821.5" y1="847" x2="1821.5" y2="843" stroke="#262626" stroke-width="1" />
<line x1="1839.5" y1="847" x2="1839.5" y2="843" stroke="#262626" stroke-width="1" />
<line x1="1858.5" y1="847" x2="1858.5" y2="843" stroke="#262626" stroke-width="1" />
<text x="1857.95" y="877.2" font-size="20.83" fill="#262626" text-anchor="middle">21</text>
<line x1="1877.5" y1="847" x2="1877.5" y2="843" stroke="#262626" stroke-width="1" />
<line x1="1896.5" y1="847" x2="1896.5" y2="843" stroke="#262626" stroke-width="1" />
<line x1="1914.5" y1="847" x2="1914.5" y2="843" stroke="#262626" stroke-width="1" />
<text x="1914.2" y="877.2" font-size="20.83" fill="#262626" text-anchor="middle">24</text>
<line x1="1465" y1="537.5" x2="1469" y2="537.5" stroke="#262626" stroke-width="1" />
<line x1="1465" y1="614.5" x2="1469" y2="614.5" stroke="#262626" stroke-width="1" />
<line x1="1465" y1="692.5" x2="1469" y2="692.5" stroke="#262626" stroke-width="1" />
<line x1="1465" y1="770.5" x2="1469" y2="770.5" stroke="#262626" stroke-width="1" />
<line x1="1667.86" y1="572" x2="1667.86" y2="847" stroke="#00ffff" stroke-width="3.1" />
<rect x="1661.46" y="533" width="110.7" height="39" fill="#fff" stroke="#00ffff" stroke-width="1"/>
<text x="1667.56" y="559.9" font-size="20.83" fill="#000">time now</text>
<rect x="268" y="881.6" width="159.6" height="40.5" fill="#00ff00"/>
<rect x="432" y="881.6" width="197" height="40.5" fill="#ffff00"/>
<rect x="629" y="881.6" width="165.8" height="40.5" fill="#ff0000"/>
<text x="275.3" y="908.8" font-size="20.83" fill="#000">minor activity</text>
<text x="438.5" y="908.8" font-size="20.83" fill="#000">moderate activity</text>
<text x="635.3" y="908.8" font-size="20.83" fill="#000">strong activity</text>
<text x="1258.6" y="909" font-size="21.2" fill="#000">Current Warning:</text>
<text x="1455.5" y="911" font-size="31.25" fill="#000">0.0/9</text>
<rect x="276" y="935" width="409" height="331" fill="#e6e6e6"/>
<rect x="1573" y="935" width="341" height="331" fill="#e6e6e6"/>
<line x1="275.5" y1="935" x2="275.5" y2="1267" stroke="#262626" stroke-width="1" />
<line x1="275" y1="1266.5" x2="1915" y2="1266.5" stroke="#262626" stroke-width="1" />
<text x="275.3" y="1295.1" font-size="20.83" fill="#262626" text-anchor="middle">0</text>
<line x1="343.5" y1="1266" x2="343.5" y2="1249" stroke="#262626" stroke-width="1" />
<text x="343.59" y="1295.1" font-size="20.83" fill="#262626" text-anchor="middle">1</text>
<line x1="411.5" y1="1266" x2="411.5" y2="1249" stroke="#262626" stroke-width="1" />
<text x="411.88" y="1295.1" font-size="20.83" fill="#262626" text-anchor="middle">2</text>
<line x1="480.5" y1="1266" x2="480.5" y2="1249" stroke="#262626" stroke-width="1" />
<text x="480.18" y="1295.1" font-size="20.83" fill="#262626" text-anchor="middle">3</text>
<line x1="548.5" y1="1266" x2="548.5" y2="1249" stroke="#262626" stroke-width="1" />
<text x="548.47" y="1295.1" font-size="20.83" fill="#262626" text-anchor="middle">4</text>
<line x1="616.5" y1="1266" x2="616.5" y2="1249" stroke="#262626" stroke-width="1" />
<text x="616.76" y="1295.1" font-size="20.83" fill="#262626" text-anchor="middle">5</text>
<line x1="685.5" y1="1266" x2="685.5" y2="1249" stroke="#262626" stroke-width="1" />
<text x="685.05" y="1295.1" font-size="20.83" fill="#262626" text-anchor="middle">6</text>
<line x1="753.5" y1="1266" x2="753.5" y2="1249" stroke="#262626" stroke-width="1" />
<text x="753.34" y="1295.1" font-size="20.83" fill="#262626" text-anchor="middle">7</text>
<line x1="821.5" y1="1266" x2="821.5" y2="1249" stroke="#262626" stroke-width="1" />
<text x="821.63" y="1295.1" font-size="20.83" fill="#262626" text-anchor="middle">8</text>
<line x1="889.5" y1="1266" x2="889.5" y2="1249" stroke="#262626" stroke-width="1" />
<text x="889.92" y="1295.1" font-size="20.83" fill="#262626" text-anchor="middle">9</text>
<line x1="958.5" y1="1266" x2="958.5" y2="1249" stroke="#262626" stroke-width="1" />
<text x="958.22" y="1295.1" font-size="20.83" fill="#262626" text-anchor="middle">10</text>
<line x1="1026.5" y1="1266" x2="1026.5" y2="1249" stroke="#262626" stroke-width="1" />
<text x="1026.51" y="1295.1" font-size="20.83" fill="#262626" text-anchor="middle">11</text>
<line x1="1094.5" y1="1266" x2="1094.5" y2="1249" stroke="#262626" stroke-width="1" />
<text x="1094.8" y="1295.1" font-size="20.83" fill="#262626" text-anchor="middle">12</text>
<line x1="1163.5" y1="1266" x2="1163.5" y2="1249" stroke="#262626" stroke-width="1" />
<text x="1163.09" y="1295.1" font-size="20.83" fill="#262626" text-anchor="middle">13</text>
<line x1="1231.5" y1="1266" x2="1231.5" y2="1249" stroke="#262626" stroke-width="1" />
<text x="1231.38" y="1295.1" font-size="20.83" fill="#262626" text-anchor="middle">14</text>
<line x1="1299.5" y1="1266" x2="1299.5" y2="1249" stroke="#262626" stroke-width="1" />
<text x="1299.67" y="1295.1" font-size="20.83" fill="#262626" text-anchor="middle">15</text>
<line x1="1367.5" y1="1266" x2="1367.5" y2="1249" stroke="#262626" stroke-width="1" />
<text x="1367.97" y="1295.1" font-size="20.83" fill="#262626" text-anchor="middle">16</text>
<line x1="1436.5" y1="1266" x2="1436.5" y2="1249" stroke="#262626" stroke-width="1" />
<text x="1436.26" y="1295.1" font-size="20.83" fill="#262626" text-anchor="middle">17</text>
<line x1="1504.5" y1="1266" x2="1504.5" y2="1249" stroke="#262626" stroke-width="1" />
<text x="1504.55" y="1295.1" font-size="20.83" fill="#262626" text-anchor="middle">18</text>
<line x1="1572.5" y1="1266" x2="1572.5" y2="1249" stroke="#262626" stroke-width="1" />
<text x="1572.84" y="1295.1" font-size="20.83" fill="#262626" text-anchor="middle">19</text>
<line x1="1641.5" y1="1266" x2="1641.5" y2="1249" stroke="#262626" stroke-width="1" />
<text x="1641.13" y="1295.1" font-size="20.83" fill="#262626" text-anchor="middle">20</text>
<line x1="1709.5" y1="1266" x2="1709.5" y2="1249" stroke="#262626" stroke-width="1" />
<text x="1709.42" y="1295.1" font-size="20.83" fill="#262626" text-anchor="middle">21</text>
<line x1="1777.5" y1="1266" x2="1777.5" y2="1249" stroke="#262626" stroke-width="1" />
<text x="1777.72" y="1295.1" font-size="20.83" fill="#262626" text-anchor="middle">22</text>
<line x1="1846.5" y1="1266" x2="1846.5" y2="1249" stroke="#262626" stroke-width="1" />
<text x="1846.01" y="1295.1" font-size="20.83" fill="#262626" text-anchor="middle">23</text>
<line x1="1914.5" y1="1266" x2="1914.5" y2="1249" stroke="#262626" stroke-width="1" />
<text x="265.3" y="1274.1" font-size="20.83" fill="#262626" text-anchor="end">0</text>
<line x1="276" y1="1192.5" x2="292" y2="1192.5" stroke="#262626" stroke-width="1" />
<text x="265.3" y="1200.1" font-size="20.83" fill="#262626" text-anchor="end">2</text>
<line x1="276" y1="1119.5" x2="292" y2="1119.5" stroke="#262626" stroke-width="1" />
<text x="265.3" y="1127.1" font-size="20.83" fill="#262626" text-anchor="end">4</text>
<line x1="276" y1="1045.5" x2="292" y2="1045.5" stroke="#262626" stroke-width="1" />
<text x="265.3" y="1053.1" font-size="20.83" fill="#262626" text-anchor="end">6</text>
<line x1="276" y1="971.5" x2="292" y2="971.5" stroke="#262626" stroke-width="1" />
<text x="265.3" y="979.1" font-size="20.83" fill="#262626" text-anchor="end">8</text>
<text x="240.3" y="1101.2" font-size="23.5" fill="#262626" text-anchor="middle" transform="rotate(-90 240.3 1101.2)">Warning Values</text>
<text x="1094.8" y="1327" font-size="22.9" fill="#262626" text-anchor="middle">Time UTC / h</text>
<text x="1089.6" y="1359" font-size="20.83" fill="#000" text-anchor="middle">Last updated: Fri 14 Nov 2025 23:50:36 NZDT</text>
<line x1="1014.9" y1="973.6" x2="1014.9" y2="1266" stroke="#00ffff" stroke-width="3.1" />
<rect x="1008.5" y="933.5" width="110.7" height="40.1" fill="#fff" stroke="#00ffff" stroke-width="1"/>
<text x="1014.6" y="960.4" font-size="20.83" fill="#000">time now</text>
</svg>
</body></html>
